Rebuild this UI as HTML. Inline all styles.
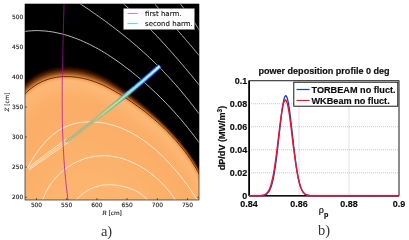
<!DOCTYPE html><html><head><meta charset="utf-8"><title>figure</title><style>html,body{margin:0;padding:0;background:#fff}</style></head><body><svg width="409" height="240" viewBox="0 0 409 240" style="display:block">
<defs><clipPath id="cl"><rect x="25" y="4" width="174" height="196"/></clipPath>
<clipPath id="sp"><path d="M5.4,126.4 L6.4,125.0 L7.4,123.6 L8.3,122.2 L9.3,120.8 L10.3,119.4 L11.3,117.9 L12.3,116.5 L13.3,115.1 L14.3,113.6 L15.2,112.2 L16.2,110.8 L17.2,109.4 L18.3,108.0 L19.3,106.6 L20.3,105.3 L21.4,103.9 L22.4,102.6 L23.5,101.3 L24.6,100.1 L25.7,98.8 L26.8,97.6 L27.9,96.5 L29.1,95.3 L30.3,94.2 L31.5,93.2 L32.7,92.2 L34.0,91.2 L35.3,90.2 L36.6,89.3 L37.9,88.5 L39.2,87.6 L40.6,86.9 L42.0,86.1 L43.4,85.4 L44.8,84.8 L46.3,84.2 L47.7,83.6 L49.2,83.1 L50.7,82.6 L52.3,82.2 L53.8,81.9 L55.4,81.6 L57.0,81.3 L58.6,81.1 L60.2,80.9 L61.8,80.7 L63.5,80.6 L65.1,80.6 L66.8,80.6 L68.5,80.6 L70.2,80.7 L71.8,80.8 L73.5,80.9 L75.2,81.1 L76.8,81.3 L78.5,81.6 L80.1,81.9 L81.8,82.2 L83.4,82.6 L85.0,83.0 L86.6,83.4 L88.2,83.8 L89.7,84.3 L91.3,84.8 L92.8,85.3 L94.4,85.9 L95.9,86.5 L97.4,87.1 L98.9,87.7 L100.4,88.4 L101.9,89.1 L103.4,89.8 L104.9,90.5 L106.4,91.2 L107.8,92.0 L109.3,92.8 L110.7,93.6 L112.2,94.4 L113.6,95.2 L115.1,96.1 L116.5,97.0 L117.9,97.8 L119.4,98.7 L120.8,99.6 L122.2,100.6 L123.7,101.5 L125.1,102.4 L126.5,103.4 L127.9,104.3 L129.3,105.3 L130.7,106.2 L132.1,107.2 L133.5,108.2 L134.9,109.2 L136.3,110.2 L137.6,111.2 L139.0,112.3 L140.4,113.3 L141.7,114.3 L143.1,115.4 L144.4,116.4 L145.7,117.5 L147.1,118.6 L148.4,119.7 L149.7,120.8 L151.0,121.9 L152.3,123.0 L153.6,124.1 L154.9,125.2 L156.1,126.4 L157.4,127.5 L158.6,128.7 L159.9,129.8 L161.1,131.0 L162.3,132.2 L163.5,133.4 L164.7,134.6 L165.9,135.8 L167.1,137.0 L168.3,138.3 L169.4,139.5 L170.6,140.7 L171.7,142.0 L172.9,143.3 L174.0,144.5 L175.1,145.8 L176.2,147.1 L177.2,148.4 L178.3,149.7 L179.3,151.1 L180.4,152.4 L181.4,153.7 L182.4,155.1 L183.4,156.4 L184.4,157.8 L185.4,159.2 L186.3,160.5 L187.3,161.9 L188.2,163.3 L189.1,164.8 L190.0,166.2 L190.9,167.6 L191.8,169.0 L192.6,170.5 L193.4,171.9 L194.3,173.4 L195.1,174.9 L195.8,176.4 L196.6,177.9 L197.4,179.4 L198.1,180.9 L198.8,182.4 L199.5,183.9 L200.2,185.5 L200.9,187.0 L201.5,188.6 L202.2,190.2 L202.8,191.7 L203.4,193.3 L240.0,240.0 L-10.0,240.0"/></clipPath>
<filter id="bl" x="-20%" y="-20%" width="140%" height="140%"><feGaussianBlur stdDeviation="3"/></filter>
<filter id="b1" x="-20%" y="-20%" width="140%" height="140%"><feGaussianBlur stdDeviation="0.6"/></filter>
</defs>
<rect x="0" y="0" width="409" height="240" fill="#fff"/>
<g clip-path="url(#cl)">
<rect x="25" y="4" width="174" height="196" fill="#000"/>
<g filter="url(#b1)">
<path d="M-6.0,118.1 L-5.0,116.8 L-4.1,115.5 L-3.1,114.2 L-2.1,112.9 L-1.2,111.5 L-0.2,110.1 L0.8,108.6 L1.8,107.2 L2.8,105.7 L3.8,104.3 L4.9,102.8 L5.9,101.3 L7.0,99.8 L8.1,98.3 L9.2,96.7 L10.4,95.2 L11.5,93.7 L12.7,92.2 L14.0,90.7 L15.2,89.2 L16.5,87.8 L17.9,86.3 L19.3,84.9 L20.7,83.5 L22.1,82.2 L23.6,80.8 L25.1,79.5 L26.7,78.3 L28.3,77.1 L30.0,75.9 L31.6,74.8 L33.4,73.7 L35.1,72.7 L36.9,71.7 L38.7,70.8 L40.6,69.9 L42.5,69.1 L44.4,68.4 L46.4,67.7 L48.4,67.1 L50.5,66.5 L52.5,66.1 L54.5,65.6 L56.6,65.3 L58.7,65.0 L60.7,64.8 L62.8,64.7 L64.8,64.6 L66.9,64.5 L69.0,64.5 L71.0,64.6 L73.1,64.8 L75.1,65.0 L77.1,65.2 L79.1,65.5 L81.1,65.8 L83.1,66.2 L85.0,66.7 L86.9,67.2 L88.8,67.7 L90.7,68.3 L92.5,68.9 L94.4,69.6 L96.1,70.3 L97.9,71.0 L99.6,71.8 L101.3,72.6 L103.0,73.5 L104.7,74.3 L106.3,75.2 L107.9,76.1 L109.5,77.1 L111.1,78.0 L112.7,79.0 L114.2,80.0 L115.7,81.0 L117.2,82.1 L118.7,83.1 L120.1,84.2 L121.6,85.2 L123.0,86.3 L124.4,87.4 L125.8,88.5 L127.2,89.6 L128.6,90.7 L130.0,91.8 L131.4,92.9 L132.8,94.0 L134.2,95.1 L135.5,96.2 L136.9,97.3 L138.3,98.5 L139.6,99.6 L141.0,100.8 L142.4,101.9 L143.7,103.1 L145.0,104.2 L146.4,105.4 L147.7,106.6 L149.0,107.7 L150.4,108.9 L151.7,110.1 L153.0,111.3 L154.3,112.5 L155.6,113.7 L156.9,115.0 L158.2,116.2 L159.4,117.4 L160.7,118.7 L162.0,119.9 L163.2,121.2 L164.5,122.4 L165.7,123.7 L166.9,124.9 L168.2,126.2 L169.4,127.5 L170.6,128.8 L171.8,130.1 L173.0,131.4 L174.1,132.7 L175.3,134.1 L176.5,135.4 L177.6,136.7 L178.7,138.1 L179.9,139.4 L181.0,140.8 L182.1,142.2 L183.2,143.5 L184.3,144.9 L185.3,146.3 L186.4,147.7 L187.4,149.1 L188.5,150.6 L189.5,152.0 L190.5,153.4 L191.5,154.9 L192.5,156.3 L193.5,157.8 L194.4,159.3 L195.4,160.7 L196.3,162.2 L197.2,163.7 L198.1,165.2 L199.0,166.8 L199.9,168.3 L200.8,169.8 L201.6,171.4 L202.4,172.9 L203.3,174.5 L204.1,176.1 L204.8,177.7 L205.6,179.2 L206.3,180.9 L207.1,182.5 L207.8,184.1 L208.5,185.7 L209.2,187.4 L209.8,189.0 L210.5,190.7 L240.0,240.0 L-10.0,240.0" fill="rgb(0,0,0)"/>
<path d="M-5.6,118.4 L-4.6,117.1 L-3.7,115.8 L-2.7,114.5 L-1.8,113.1 L-0.8,111.7 L0.2,110.3 L1.2,108.9 L2.2,107.5 L3.2,106.0 L4.2,104.5 L5.2,103.0 L6.3,101.5 L7.4,100.0 L8.5,98.5 L9.6,97.0 L10.7,95.5 L11.9,94.0 L13.1,92.5 L14.3,91.0 L15.6,89.6 L16.9,88.1 L18.2,86.7 L19.6,85.2 L21.0,83.9 L22.4,82.5 L23.9,81.2 L25.4,79.9 L27.0,78.7 L28.6,77.5 L30.2,76.3 L31.9,75.2 L33.6,74.1 L35.3,73.1 L37.1,72.2 L38.9,71.3 L40.8,70.4 L42.7,69.6 L44.6,68.9 L46.6,68.2 L48.6,67.6 L50.6,67.0 L52.6,66.6 L54.6,66.2 L56.7,65.8 L58.7,65.6 L60.8,65.4 L62.8,65.2 L64.9,65.1 L66.9,65.1 L69.0,65.1 L71.0,65.2 L73.0,65.3 L75.0,65.5 L77.0,65.7 L79.0,66.0 L81.0,66.4 L83.0,66.8 L84.9,67.2 L86.8,67.7 L88.7,68.2 L90.6,68.8 L92.4,69.4 L94.2,70.1 L96.0,70.8 L97.7,71.5 L99.5,72.3 L101.2,73.1 L102.8,73.9 L104.5,74.8 L106.1,75.7 L107.7,76.6 L109.3,77.5 L110.9,78.4 L112.4,79.4 L114.0,80.4 L115.5,81.4 L117.0,82.4 L118.5,83.5 L119.9,84.5 L121.4,85.6 L122.8,86.6 L124.2,87.7 L125.6,88.8 L127.0,89.9 L128.4,90.9 L129.8,92.0 L131.2,93.1 L132.6,94.2 L134.0,95.4 L135.4,96.5 L136.7,97.6 L138.1,98.7 L139.5,99.9 L140.8,101.0 L142.2,102.1 L143.5,103.3 L144.9,104.4 L146.2,105.6 L147.6,106.8 L148.9,108.0 L150.2,109.1 L151.5,110.3 L152.8,111.5 L154.1,112.7 L155.4,113.9 L156.7,115.1 L158.0,116.4 L159.3,117.6 L160.6,118.8 L161.8,120.1 L163.1,121.3 L164.3,122.6 L165.6,123.8 L166.8,125.1 L168.0,126.4 L169.2,127.7 L170.4,128.9 L171.6,130.2 L172.8,131.5 L174.0,132.9 L175.2,134.2 L176.3,135.5 L177.5,136.8 L178.6,138.2 L179.7,139.5 L180.9,140.9 L182.0,142.3 L183.1,143.6 L184.1,145.0 L185.2,146.4 L186.3,147.8 L187.3,149.2 L188.4,150.7 L189.4,152.1 L190.4,153.5 L191.4,155.0 L192.4,156.4 L193.3,157.9 L194.3,159.3 L195.3,160.8 L196.2,162.3 L197.1,163.8 L198.0,165.3 L198.9,166.8 L199.8,168.4 L200.6,169.9 L201.5,171.4 L202.3,173.0 L203.1,174.6 L203.9,176.1 L204.7,177.7 L205.5,179.3 L206.2,180.9 L206.9,182.5 L207.7,184.2 L208.4,185.8 L209.0,187.4 L209.7,189.1 L210.3,190.7 L240.0,240.0 L-10.0,240.0" fill="rgb(4,0,0)"/>
<path d="M-5.3,118.6 L-4.3,117.3 L-3.3,116.1 L-2.4,114.7 L-1.4,113.4 L-0.4,112.0 L0.6,110.6 L1.6,109.2 L2.6,107.7 L3.6,106.2 L4.6,104.8 L5.6,103.3 L6.7,101.8 L7.7,100.3 L8.8,98.8 L9.9,97.3 L11.1,95.8 L12.2,94.3 L13.4,92.8 L14.7,91.3 L15.9,89.9 L17.2,88.4 L18.5,87.0 L19.9,85.6 L21.3,84.2 L22.7,82.9 L24.2,81.6 L25.7,80.3 L27.3,79.1 L28.9,77.9 L30.5,76.7 L32.1,75.6 L33.8,74.6 L35.6,73.6 L37.3,72.6 L39.1,71.7 L41.0,70.9 L42.9,70.1 L44.8,69.4 L46.7,68.7 L48.7,68.1 L50.7,67.6 L52.7,67.1 L54.7,66.7 L56.7,66.4 L58.8,66.1 L60.8,65.9 L62.8,65.7 L64.9,65.7 L66.9,65.6 L68.9,65.6 L71.0,65.7 L73.0,65.9 L75.0,66.0 L77.0,66.3 L79.0,66.6 L80.9,66.9 L82.9,67.3 L84.8,67.7 L86.7,68.2 L88.6,68.7 L90.4,69.3 L92.2,69.9 L94.0,70.6 L95.8,71.3 L97.6,72.0 L99.3,72.8 L101.0,73.5 L102.7,74.4 L104.3,75.2 L105.9,76.1 L107.6,77.0 L109.1,77.9 L110.7,78.8 L112.2,79.8 L113.8,80.8 L115.3,81.8 L116.8,82.8 L118.3,83.8 L119.7,84.8 L121.2,85.9 L122.6,87.0 L124.0,88.0 L125.4,89.1 L126.9,90.2 L128.3,91.2 L129.6,92.3 L131.0,93.4 L132.4,94.5 L133.8,95.6 L135.2,96.7 L136.6,97.8 L137.9,99.0 L139.3,100.1 L140.7,101.2 L142.0,102.4 L143.4,103.5 L144.7,104.7 L146.1,105.8 L147.4,107.0 L148.7,108.2 L150.1,109.3 L151.4,110.5 L152.7,111.7 L154.0,112.9 L155.3,114.1 L156.6,115.3 L157.9,116.5 L159.1,117.8 L160.4,119.0 L161.7,120.2 L162.9,121.5 L164.2,122.7 L165.4,124.0 L166.7,125.2 L167.9,126.5 L169.1,127.8 L170.3,129.1 L171.5,130.4 L172.7,131.7 L173.9,133.0 L175.0,134.3 L176.2,135.6 L177.3,137.0 L178.5,138.3 L179.6,139.7 L180.7,141.0 L181.8,142.4 L182.9,143.8 L184.0,145.1 L185.1,146.5 L186.1,147.9 L187.2,149.3 L188.2,150.8 L189.2,152.2 L190.3,153.6 L191.3,155.1 L192.2,156.5 L193.2,158.0 L194.2,159.4 L195.1,160.9 L196.0,162.4 L197.0,163.9 L197.9,165.4 L198.8,166.9 L199.6,168.4 L200.5,170.0 L201.3,171.5 L202.2,173.1 L203.0,174.6 L203.8,176.2 L204.5,177.8 L205.3,179.4 L206.1,181.0 L206.8,182.6 L207.5,184.2 L208.2,185.9 L208.9,187.5 L209.5,189.1 L210.2,190.8 L240.0,240.0 L-10.0,240.0" fill="rgb(9,1,0)"/>
<path d="M-4.9,118.9 L-3.9,117.6 L-2.9,116.3 L-2.0,115.0 L-1.0,113.6 L-0.0,112.2 L0.9,110.8 L1.9,109.4 L2.9,108.0 L3.9,106.5 L4.9,105.0 L6.0,103.5 L7.0,102.1 L8.1,100.6 L9.2,99.1 L10.3,97.6 L11.4,96.1 L12.6,94.6 L13.8,93.1 L15.0,91.6 L16.2,90.2 L17.5,88.7 L18.9,87.3 L20.2,85.9 L21.6,84.6 L23.1,83.2 L24.5,81.9 L26.0,80.7 L27.6,79.5 L29.1,78.3 L30.7,77.2 L32.4,76.1 L34.1,75.0 L35.8,74.0 L37.6,73.1 L39.3,72.2 L41.2,71.4 L43.0,70.6 L44.9,69.9 L46.9,69.2 L48.8,68.6 L50.8,68.1 L52.8,67.6 L54.8,67.2 L56.8,66.9 L58.8,66.6 L60.8,66.4 L62.9,66.3 L64.9,66.2 L66.9,66.2 L68.9,66.2 L70.9,66.3 L72.9,66.4 L74.9,66.6 L76.9,66.8 L78.9,67.1 L80.8,67.4 L82.8,67.8 L84.7,68.3 L86.6,68.7 L88.4,69.3 L90.3,69.8 L92.1,70.4 L93.9,71.1 L95.7,71.8 L97.4,72.5 L99.1,73.2 L100.8,74.0 L102.5,74.8 L104.1,75.7 L105.7,76.5 L107.4,77.4 L108.9,78.3 L110.5,79.2 L112.0,80.2 L113.6,81.2 L115.1,82.2 L116.6,83.2 L118.0,84.2 L119.5,85.2 L121.0,86.2 L122.4,87.3 L123.8,88.3 L125.2,89.4 L126.7,90.5 L128.1,91.5 L129.5,92.6 L130.8,93.7 L132.2,94.8 L133.6,95.9 L135.0,97.0 L136.4,98.1 L137.8,99.2 L139.1,100.3 L140.5,101.5 L141.8,102.6 L143.2,103.7 L144.5,104.9 L145.9,106.0 L147.2,107.2 L148.6,108.4 L149.9,109.5 L151.2,110.7 L152.5,111.9 L153.8,113.1 L155.1,114.3 L156.4,115.5 L157.7,116.7 L159.0,117.9 L160.3,119.1 L161.5,120.4 L162.8,121.6 L164.0,122.9 L165.3,124.1 L166.5,125.4 L167.7,126.7 L169.0,127.9 L170.2,129.2 L171.4,130.5 L172.6,131.8 L173.7,133.1 L174.9,134.4 L176.1,135.8 L177.2,137.1 L178.4,138.4 L179.5,139.8 L180.6,141.1 L181.7,142.5 L182.8,143.9 L183.9,145.2 L185.0,146.6 L186.0,148.0 L187.1,149.4 L188.1,150.8 L189.1,152.3 L190.1,153.7 L191.1,155.1 L192.1,156.6 L193.1,158.1 L194.0,159.5 L195.0,161.0 L195.9,162.5 L196.8,164.0 L197.7,165.5 L198.6,167.0 L199.5,168.5 L200.4,170.0 L201.2,171.6 L202.0,173.1 L202.8,174.7 L203.6,176.3 L204.4,177.9 L205.2,179.4 L205.9,181.0 L206.6,182.7 L207.4,184.3 L208.1,185.9 L208.7,187.6 L209.4,189.2 L210.0,190.9 L240.0,240.0 L-10.0,240.0" fill="rgb(15,3,0)"/>
<path d="M-4.5,119.2 L-3.5,117.9 L-2.6,116.6 L-1.6,115.3 L-0.6,113.9 L0.3,112.5 L1.3,111.1 L2.3,109.7 L3.3,108.2 L4.3,106.8 L5.3,105.3 L6.4,103.8 L7.4,102.3 L8.5,100.8 L9.6,99.3 L10.7,97.8 L11.8,96.4 L12.9,94.9 L14.1,93.4 L15.3,91.9 L16.6,90.5 L17.9,89.1 L19.2,87.7 L20.5,86.3 L21.9,84.9 L23.4,83.6 L24.8,82.3 L26.3,81.1 L27.8,79.9 L29.4,78.7 L31.0,77.6 L32.6,76.5 L34.3,75.5 L36.0,74.5 L37.8,73.5 L39.5,72.7 L41.4,71.8 L43.2,71.1 L45.1,70.4 L47.0,69.7 L48.9,69.1 L50.9,68.6 L52.9,68.2 L54.9,67.8 L56.9,67.4 L58.9,67.2 L60.9,67.0 L62.9,66.8 L64.9,66.7 L66.9,66.7 L68.9,66.7 L70.9,66.8 L72.9,67.0 L74.9,67.1 L76.8,67.4 L78.8,67.7 L80.7,68.0 L82.7,68.4 L84.6,68.8 L86.5,69.3 L88.3,69.8 L90.1,70.3 L91.9,70.9 L93.7,71.6 L95.5,72.2 L97.2,73.0 L98.9,73.7 L100.6,74.5 L102.3,75.3 L103.9,76.1 L105.6,76.9 L107.2,77.8 L108.7,78.7 L110.3,79.6 L111.8,80.6 L113.4,81.6 L114.9,82.5 L116.4,83.5 L117.8,84.5 L119.3,85.5 L120.8,86.6 L122.2,87.6 L123.6,88.7 L125.1,89.7 L126.5,90.8 L127.9,91.8 L129.3,92.9 L130.7,94.0 L132.0,95.1 L133.4,96.2 L134.8,97.3 L136.2,98.4 L137.6,99.5 L138.9,100.6 L140.3,101.7 L141.7,102.8 L143.0,104.0 L144.4,105.1 L145.7,106.3 L147.1,107.4 L148.4,108.6 L149.7,109.7 L151.1,110.9 L152.4,112.1 L153.7,113.3 L155.0,114.5 L156.3,115.7 L157.6,116.9 L158.9,118.1 L160.1,119.3 L161.4,120.5 L162.7,121.8 L163.9,123.0 L165.2,124.3 L166.4,125.5 L167.6,126.8 L168.8,128.1 L170.0,129.4 L171.2,130.6 L172.4,131.9 L173.6,133.2 L174.8,134.6 L175.9,135.9 L177.1,137.2 L178.2,138.5 L179.3,139.9 L180.5,141.2 L181.6,142.6 L182.7,144.0 L183.8,145.3 L184.8,146.7 L185.9,148.1 L186.9,149.5 L188.0,150.9 L189.0,152.4 L190.0,153.8 L191.0,155.2 L192.0,156.7 L193.0,158.1 L193.9,159.6 L194.9,161.1 L195.8,162.6 L196.7,164.1 L197.6,165.6 L198.5,167.1 L199.4,168.6 L200.2,170.1 L201.1,171.7 L201.9,173.2 L202.7,174.8 L203.5,176.3 L204.3,177.9 L205.0,179.5 L205.8,181.1 L206.5,182.7 L207.2,184.3 L207.9,186.0 L208.6,187.6 L209.2,189.3 L209.9,190.9 L240.0,240.0 L-10.0,240.0" fill="rgb(22,6,0)"/>
<path d="M-4.1,119.5 L-3.2,118.1 L-2.2,116.8 L-1.2,115.5 L-0.3,114.1 L0.7,112.8 L1.7,111.4 L2.7,109.9 L3.7,108.5 L4.7,107.0 L5.7,105.5 L6.7,104.1 L7.8,102.6 L8.8,101.1 L9.9,99.6 L11.0,98.1 L12.1,96.6 L13.3,95.2 L14.5,93.7 L15.7,92.2 L16.9,90.8 L18.2,89.4 L19.5,88.0 L20.9,86.6 L22.3,85.3 L23.7,84.0 L25.1,82.7 L26.6,81.5 L28.1,80.3 L29.7,79.1 L31.3,78.0 L32.9,76.9 L34.6,75.9 L36.3,74.9 L38.0,74.0 L39.8,73.1 L41.6,72.3 L43.4,71.6 L45.3,70.9 L47.2,70.2 L49.1,69.6 L51.0,69.1 L53.0,68.7 L54.9,68.3 L56.9,68.0 L58.9,67.7 L60.9,67.5 L62.9,67.4 L64.9,67.3 L66.9,67.3 L68.9,67.3 L70.9,67.4 L72.9,67.5 L74.8,67.7 L76.8,67.9 L78.7,68.2 L80.7,68.5 L82.6,68.9 L84.5,69.3 L86.3,69.8 L88.2,70.3 L90.0,70.8 L91.8,71.4 L93.6,72.1 L95.3,72.7 L97.1,73.4 L98.8,74.2 L100.4,74.9 L102.1,75.7 L103.7,76.5 L105.4,77.4 L107.0,78.2 L108.5,79.1 L110.1,80.1 L111.6,81.0 L113.2,81.9 L114.7,82.9 L116.2,83.9 L117.6,84.9 L119.1,85.9 L120.6,86.9 L122.0,87.9 L123.4,89.0 L124.9,90.0 L126.3,91.1 L127.7,92.1 L129.1,93.2 L130.5,94.3 L131.9,95.4 L133.3,96.4 L134.6,97.5 L136.0,98.6 L137.4,99.7 L138.8,100.8 L140.1,101.9 L141.5,103.1 L142.9,104.2 L144.2,105.3 L145.6,106.5 L146.9,107.6 L148.2,108.8 L149.6,109.9 L150.9,111.1 L152.2,112.3 L153.5,113.5 L154.8,114.6 L156.1,115.8 L157.4,117.0 L158.7,118.3 L160.0,119.5 L161.3,120.7 L162.5,121.9 L163.8,123.2 L165.0,124.4 L166.2,125.7 L167.5,126.9 L168.7,128.2 L169.9,129.5 L171.1,130.8 L172.3,132.1 L173.5,133.4 L174.6,134.7 L175.8,136.0 L176.9,137.3 L178.1,138.7 L179.2,140.0 L180.3,141.3 L181.4,142.7 L182.5,144.1 L183.6,145.5 L184.7,146.8 L185.8,148.2 L186.8,149.6 L187.8,151.0 L188.9,152.5 L189.9,153.9 L190.9,155.3 L191.9,156.8 L192.8,158.2 L193.8,159.7 L194.7,161.2 L195.7,162.6 L196.6,164.1 L197.5,165.6 L198.4,167.1 L199.2,168.7 L200.1,170.2 L200.9,171.7 L201.7,173.3 L202.6,174.8 L203.3,176.4 L204.1,178.0 L204.9,179.6 L205.6,181.2 L206.4,182.8 L207.1,184.4 L207.8,186.0 L208.4,187.7 L209.1,189.3 L209.7,191.0 L240.0,240.0 L-10.0,240.0" fill="rgb(30,9,1)"/>
<path d="M-3.8,119.7 L-2.8,118.4 L-1.8,117.1 L-0.9,115.8 L0.1,114.4 L1.1,113.0 L2.1,111.6 L3.0,110.2 L4.0,108.7 L5.0,107.3 L6.1,105.8 L7.1,104.3 L8.1,102.8 L9.2,101.4 L10.3,99.9 L11.4,98.4 L12.5,96.9 L13.7,95.5 L14.8,94.0 L16.0,92.6 L17.3,91.1 L18.5,89.7 L19.9,88.3 L21.2,87.0 L22.6,85.6 L24.0,84.3 L25.4,83.1 L26.9,81.8 L28.4,80.7 L30.0,79.5 L31.5,78.4 L33.2,77.4 L34.8,76.3 L36.5,75.4 L38.2,74.5 L40.0,73.6 L41.7,72.8 L43.6,72.0 L45.4,71.3 L47.3,70.7 L49.2,70.1 L51.1,69.6 L53.1,69.2 L55.0,68.8 L57.0,68.5 L59.0,68.3 L60.9,68.1 L62.9,67.9 L64.9,67.8 L66.9,67.8 L68.9,67.8 L70.8,67.9 L72.8,68.0 L74.8,68.2 L76.7,68.5 L78.6,68.7 L80.6,69.1 L82.5,69.4 L84.4,69.8 L86.2,70.3 L88.0,70.8 L89.9,71.4 L91.7,71.9 L93.4,72.6 L95.2,73.2 L96.9,73.9 L98.6,74.6 L100.3,75.4 L101.9,76.2 L103.6,77.0 L105.2,77.8 L106.8,78.7 L108.3,79.6 L109.9,80.5 L111.4,81.4 L113.0,82.3 L114.5,83.3 L116.0,84.2 L117.4,85.2 L118.9,86.2 L120.4,87.2 L121.8,88.3 L123.2,89.3 L124.7,90.3 L126.1,91.4 L127.5,92.4 L128.9,93.5 L130.3,94.6 L131.7,95.6 L133.1,96.7 L134.5,97.8 L135.8,98.9 L137.2,100.0 L138.6,101.1 L140.0,102.2 L141.3,103.3 L142.7,104.4 L144.1,105.5 L145.4,106.7 L146.7,107.8 L148.1,109.0 L149.4,110.1 L150.7,111.3 L152.1,112.5 L153.4,113.6 L154.7,114.8 L156.0,116.0 L157.3,117.2 L158.6,118.4 L159.8,119.6 L161.1,120.9 L162.4,122.1 L163.6,123.3 L164.9,124.6 L166.1,125.8 L167.3,127.1 L168.6,128.3 L169.8,129.6 L171.0,130.9 L172.2,132.2 L173.3,133.5 L174.5,134.8 L175.7,136.1 L176.8,137.4 L178.0,138.8 L179.1,140.1 L180.2,141.5 L181.3,142.8 L182.4,144.2 L183.5,145.6 L184.6,146.9 L185.6,148.3 L186.7,149.7 L187.7,151.1 L188.7,152.6 L189.7,154.0 L190.7,155.4 L191.7,156.9 L192.7,158.3 L193.6,159.8 L194.6,161.2 L195.5,162.7 L196.4,164.2 L197.3,165.7 L198.2,167.2 L199.1,168.7 L199.9,170.3 L200.8,171.8 L201.6,173.4 L202.4,174.9 L203.2,176.5 L204.0,178.1 L204.7,179.6 L205.5,181.2 L206.2,182.9 L206.9,184.5 L207.6,186.1 L208.3,187.7 L208.9,189.4 L209.6,191.0 L240.0,240.0 L-10.0,240.0" fill="rgb(39,13,2)"/>
<path d="M-3.4,120.0 L-2.4,118.7 L-1.5,117.4 L-0.5,116.0 L0.5,114.7 L1.4,113.3 L2.4,111.9 L3.4,110.4 L4.4,109.0 L5.4,107.5 L6.4,106.1 L7.5,104.6 L8.5,103.1 L9.6,101.6 L10.6,100.2 L11.7,98.7 L12.9,97.2 L14.0,95.7 L15.2,94.3 L16.4,92.9 L17.6,91.4 L18.9,90.0 L20.2,88.7 L21.5,87.3 L22.9,86.0 L24.3,84.7 L25.7,83.4 L27.2,82.2 L28.7,81.1 L30.2,79.9 L31.8,78.8 L33.4,77.8 L35.0,76.8 L36.7,75.8 L38.4,74.9 L40.2,74.1 L41.9,73.3 L43.7,72.5 L45.6,71.8 L47.4,71.2 L49.3,70.7 L51.2,70.2 L53.2,69.7 L55.1,69.4 L57.1,69.1 L59.0,68.8 L61.0,68.6 L62.9,68.5 L64.9,68.4 L66.9,68.4 L68.9,68.4 L70.8,68.5 L72.8,68.6 L74.7,68.8 L76.6,69.0 L78.6,69.3 L80.5,69.6 L82.4,70.0 L84.2,70.4 L86.1,70.8 L87.9,71.3 L89.7,71.9 L91.5,72.4 L93.3,73.1 L95.0,73.7 L96.7,74.4 L98.4,75.1 L100.1,75.8 L101.7,76.6 L103.4,77.4 L105.0,78.2 L106.6,79.1 L108.1,80.0 L109.7,80.9 L111.2,81.8 L112.8,82.7 L114.3,83.7 L115.8,84.6 L117.2,85.6 L118.7,86.6 L120.2,87.6 L121.6,88.6 L123.0,89.6 L124.5,90.7 L125.9,91.7 L127.3,92.7 L128.7,93.8 L130.1,94.8 L131.5,95.9 L132.9,97.0 L134.3,98.0 L135.7,99.1 L137.0,100.2 L138.4,101.3 L139.8,102.4 L141.2,103.5 L142.5,104.6 L143.9,105.8 L145.2,106.9 L146.6,108.0 L147.9,109.2 L149.3,110.3 L150.6,111.5 L151.9,112.6 L153.2,113.8 L154.5,115.0 L155.8,116.2 L157.1,117.4 L158.4,118.6 L159.7,119.8 L161.0,121.0 L162.2,122.2 L163.5,123.5 L164.7,124.7 L166.0,126.0 L167.2,127.2 L168.4,128.5 L169.6,129.8 L170.8,131.0 L172.0,132.3 L173.2,133.6 L174.4,134.9 L175.5,136.2 L176.7,137.6 L177.8,138.9 L179.0,140.2 L180.1,141.6 L181.2,142.9 L182.3,144.3 L183.4,145.7 L184.4,147.0 L185.5,148.4 L186.5,149.8 L187.6,151.2 L188.6,152.6 L189.6,154.1 L190.6,155.5 L191.6,157.0 L192.6,158.4 L193.5,159.9 L194.5,161.3 L195.4,162.8 L196.3,164.3 L197.2,165.8 L198.1,167.3 L199.0,168.8 L199.8,170.3 L200.6,171.9 L201.5,173.4 L202.3,175.0 L203.1,176.6 L203.8,178.1 L204.6,179.7 L205.3,181.3 L206.1,182.9 L206.8,184.5 L207.5,186.2 L208.1,187.8 L208.8,189.4 L209.4,191.1 L240.0,240.0 L-10.0,240.0" fill="rgb(48,17,3)"/>
<path d="M-3.0,120.3 L-2.1,119.0 L-1.1,117.6 L-0.1,116.3 L0.8,114.9 L1.8,113.5 L2.8,112.1 L3.8,110.7 L4.8,109.2 L5.8,107.8 L6.8,106.3 L7.8,104.9 L8.9,103.4 L9.9,101.9 L11.0,100.4 L12.1,99.0 L13.2,97.5 L14.4,96.0 L15.5,94.6 L16.7,93.2 L18.0,91.7 L19.2,90.4 L20.5,89.0 L21.8,87.6 L23.2,86.3 L24.6,85.1 L26.0,83.8 L27.5,82.6 L29.0,81.4 L30.5,80.3 L32.1,79.2 L33.7,78.2 L35.3,77.2 L36.9,76.3 L38.6,75.4 L40.4,74.5 L42.1,73.8 L43.9,73.0 L45.7,72.3 L47.6,71.7 L49.5,71.2 L51.4,70.7 L53.3,70.3 L55.2,69.9 L57.1,69.6 L59.1,69.3 L61.0,69.2 L63.0,69.0 L64.9,68.9 L66.9,68.9 L68.8,68.9 L70.8,69.0 L72.7,69.1 L74.7,69.3 L76.6,69.5 L78.5,69.8 L80.4,70.1 L82.3,70.5 L84.1,70.9 L86.0,71.4 L87.8,71.8 L89.6,72.4 L91.4,72.9 L93.1,73.6 L94.8,74.2 L96.5,74.9 L98.2,75.6 L99.9,76.3 L101.5,77.1 L103.2,77.9 L104.8,78.7 L106.4,79.5 L107.9,80.4 L109.5,81.3 L111.0,82.2 L112.6,83.1 L114.1,84.0 L115.6,85.0 L117.0,85.9 L118.5,86.9 L120.0,87.9 L121.4,88.9 L122.8,89.9 L124.3,91.0 L125.7,92.0 L127.1,93.0 L128.5,94.1 L129.9,95.1 L131.3,96.2 L132.7,97.2 L134.1,98.3 L135.5,99.4 L136.9,100.5 L138.3,101.6 L139.6,102.7 L141.0,103.8 L142.4,104.9 L143.7,106.0 L145.1,107.1 L146.4,108.2 L147.8,109.4 L149.1,110.5 L150.4,111.7 L151.8,112.8 L153.1,114.0 L154.4,115.2 L155.7,116.4 L157.0,117.6 L158.3,118.8 L159.5,120.0 L160.8,121.2 L162.1,122.4 L163.3,123.6 L164.6,124.9 L165.8,126.1 L167.1,127.4 L168.3,128.6 L169.5,129.9 L170.7,131.2 L171.9,132.5 L173.1,133.7 L174.2,135.0 L175.4,136.4 L176.6,137.7 L177.7,139.0 L178.8,140.3 L179.9,141.7 L181.1,143.0 L182.1,144.4 L183.2,145.8 L184.3,147.1 L185.4,148.5 L186.4,149.9 L187.4,151.3 L188.5,152.7 L189.5,154.2 L190.5,155.6 L191.5,157.0 L192.4,158.5 L193.4,159.9 L194.3,161.4 L195.3,162.9 L196.2,164.4 L197.1,165.9 L197.9,167.4 L198.8,168.9 L199.7,170.4 L200.5,172.0 L201.3,173.5 L202.1,175.1 L202.9,176.6 L203.7,178.2 L204.5,179.8 L205.2,181.4 L205.9,183.0 L206.6,184.6 L207.3,186.2 L208.0,187.9 L208.6,189.5 L209.3,191.1 L240.0,240.0 L-10.0,240.0" fill="rgb(58,22,4)"/>
<path d="M-2.7,120.5 L-1.7,119.2 L-0.7,117.9 L0.2,116.6 L1.2,115.2 L2.2,113.8 L3.2,112.4 L4.2,110.9 L5.1,109.5 L6.2,108.0 L7.2,106.6 L8.2,105.1 L9.2,103.6 L10.3,102.2 L11.4,100.7 L12.5,99.2 L13.6,97.8 L14.7,96.3 L15.9,94.9 L17.1,93.5 L18.3,92.1 L19.5,90.7 L20.8,89.3 L22.2,88.0 L23.5,86.7 L24.9,85.4 L26.3,84.2 L27.8,83.0 L29.3,81.8 L30.8,80.7 L32.3,79.7 L33.9,78.6 L35.5,77.7 L37.2,76.7 L38.9,75.8 L40.6,75.0 L42.3,74.2 L44.1,73.5 L45.9,72.8 L47.7,72.2 L49.6,71.7 L51.5,71.2 L53.4,70.8 L55.3,70.4 L57.2,70.1 L59.1,69.9 L61.1,69.7 L63.0,69.6 L64.9,69.5 L66.9,69.5 L68.8,69.5 L70.8,69.6 L72.7,69.7 L74.6,69.9 L76.5,70.1 L78.4,70.4 L80.3,70.7 L82.2,71.0 L84.0,71.4 L85.9,71.9 L87.7,72.4 L89.4,72.9 L91.2,73.4 L93.0,74.0 L94.7,74.7 L96.4,75.3 L98.1,76.0 L99.7,76.8 L101.4,77.5 L103.0,78.3 L104.6,79.1 L106.2,79.9 L107.7,80.8 L109.3,81.7 L110.8,82.6 L112.3,83.5 L113.9,84.4 L115.3,85.3 L116.8,86.3 L118.3,87.3 L119.8,88.3 L121.2,89.3 L122.6,90.3 L124.1,91.3 L125.5,92.3 L126.9,93.3 L128.3,94.4 L129.7,95.4 L131.1,96.5 L132.5,97.5 L133.9,98.6 L135.3,99.6 L136.7,100.7 L138.1,101.8 L139.5,102.9 L140.8,104.0 L142.2,105.1 L143.6,106.2 L144.9,107.3 L146.3,108.4 L147.6,109.6 L148.9,110.7 L150.3,111.9 L151.6,113.0 L152.9,114.2 L154.2,115.4 L155.5,116.5 L156.8,117.7 L158.1,118.9 L159.4,120.1 L160.7,121.3 L161.9,122.6 L163.2,123.8 L164.4,125.0 L165.7,126.3 L166.9,127.5 L168.1,128.8 L169.4,130.0 L170.6,131.3 L171.7,132.6 L172.9,133.9 L174.1,135.2 L175.3,136.5 L176.4,137.8 L177.6,139.1 L178.7,140.5 L179.8,141.8 L180.9,143.1 L182.0,144.5 L183.1,145.9 L184.2,147.2 L185.2,148.6 L186.3,150.0 L187.3,151.4 L188.3,152.8 L189.3,154.3 L190.3,155.7 L191.3,157.1 L192.3,158.6 L193.3,160.0 L194.2,161.5 L195.1,163.0 L196.0,164.5 L196.9,166.0 L197.8,167.5 L198.7,169.0 L199.5,170.5 L200.4,172.0 L201.2,173.6 L202.0,175.1 L202.8,176.7 L203.6,178.3 L204.3,179.8 L205.1,181.4 L205.8,183.0 L206.5,184.7 L207.2,186.3 L207.8,187.9 L208.5,189.6 L209.1,191.2 L240.0,240.0 L-10.0,240.0" fill="rgb(69,28,6)"/>
<path d="M-2.3,120.8 L-1.3,119.5 L-0.4,118.2 L0.6,116.8 L1.6,115.4 L2.6,114.0 L3.5,112.6 L4.5,111.2 L5.5,109.8 L6.5,108.3 L7.5,106.8 L8.6,105.4 L9.6,103.9 L10.7,102.4 L11.7,101.0 L12.8,99.5 L13.9,98.1 L15.1,96.6 L16.2,95.2 L17.4,93.8 L18.6,92.4 L19.9,91.0 L21.2,89.6 L22.5,88.3 L23.8,87.0 L25.2,85.8 L26.6,84.6 L28.1,83.4 L29.5,82.2 L31.1,81.1 L32.6,80.1 L34.2,79.1 L35.8,78.1 L37.4,77.2 L39.1,76.3 L40.8,75.5 L42.5,74.7 L44.3,74.0 L46.1,73.3 L47.9,72.7 L49.7,72.2 L51.6,71.7 L53.5,71.3 L55.4,71.0 L57.3,70.7 L59.2,70.4 L61.1,70.2 L63.0,70.1 L64.9,70.0 L66.9,70.0 L68.8,70.0 L70.7,70.1 L72.6,70.2 L74.5,70.4 L76.4,70.6 L78.3,70.9 L80.2,71.2 L82.1,71.6 L83.9,72.0 L85.7,72.4 L87.5,72.9 L89.3,73.4 L91.1,74.0 L92.8,74.5 L94.5,75.2 L96.2,75.8 L97.9,76.5 L99.5,77.2 L101.2,78.0 L102.8,78.7 L104.4,79.5 L106.0,80.4 L107.5,81.2 L109.1,82.1 L110.6,83.0 L112.1,83.9 L113.7,84.8 L115.1,85.7 L116.6,86.7 L118.1,87.6 L119.6,88.6 L121.0,89.6 L122.4,90.6 L123.9,91.6 L125.3,92.6 L126.7,93.6 L128.1,94.7 L129.5,95.7 L130.9,96.7 L132.3,97.8 L133.7,98.8 L135.1,99.9 L136.5,101.0 L137.9,102.0 L139.3,103.1 L140.7,104.2 L142.0,105.3 L143.4,106.4 L144.7,107.5 L146.1,108.7 L147.4,109.8 L148.8,110.9 L150.1,112.1 L151.4,113.2 L152.8,114.4 L154.1,115.5 L155.4,116.7 L156.7,117.9 L158.0,119.1 L159.3,120.3 L160.5,121.5 L161.8,122.7 L163.1,123.9 L164.3,125.2 L165.5,126.4 L166.8,127.6 L168.0,128.9 L169.2,130.2 L170.4,131.4 L171.6,132.7 L172.8,134.0 L174.0,135.3 L175.1,136.6 L176.3,137.9 L177.4,139.2 L178.6,140.6 L179.7,141.9 L180.8,143.3 L181.9,144.6 L183.0,146.0 L184.0,147.3 L185.1,148.7 L186.2,150.1 L187.2,151.5 L188.2,152.9 L189.2,154.4 L190.2,155.8 L191.2,157.2 L192.2,158.7 L193.1,160.1 L194.1,161.6 L195.0,163.1 L195.9,164.5 L196.8,166.0 L197.7,167.5 L198.5,169.1 L199.4,170.6 L200.2,172.1 L201.1,173.6 L201.9,175.2 L202.6,176.8 L203.4,178.3 L204.2,179.9 L204.9,181.5 L205.6,183.1 L206.3,184.7 L207.0,186.3 L207.7,188.0 L208.3,189.6 L209.0,191.3 L240.0,240.0 L-10.0,240.0" fill="rgb(80,34,8)"/>
<path d="M-1.9,121.1 L-0.9,119.8 L0.0,118.4 L1.0,117.1 L2.0,115.7 L2.9,114.3 L3.9,112.9 L4.9,111.5 L5.9,110.0 L6.9,108.6 L7.9,107.1 L8.9,105.6 L10.0,104.2 L11.0,102.7 L12.1,101.2 L13.2,99.8 L14.3,98.3 L15.4,96.9 L16.6,95.5 L17.8,94.1 L19.0,92.7 L20.2,91.3 L21.5,90.0 L22.8,88.7 L24.1,87.4 L25.5,86.1 L26.9,84.9 L28.4,83.8 L29.8,82.6 L31.3,81.5 L32.9,80.5 L34.4,79.5 L36.0,78.5 L37.6,77.6 L39.3,76.8 L41.0,75.9 L42.7,75.2 L44.4,74.5 L46.2,73.8 L48.0,73.2 L49.9,72.7 L51.7,72.2 L53.6,71.8 L55.4,71.5 L57.3,71.2 L59.2,71.0 L61.1,70.8 L63.0,70.7 L65.0,70.6 L66.9,70.6 L68.8,70.6 L70.7,70.7 L72.6,70.8 L74.5,71.0 L76.4,71.2 L78.3,71.4 L80.1,71.7 L82.0,72.1 L83.8,72.5 L85.6,72.9 L87.4,73.4 L89.2,73.9 L90.9,74.5 L92.6,75.0 L94.4,75.7 L96.0,76.3 L97.7,77.0 L99.4,77.7 L101.0,78.4 L102.6,79.2 L104.2,80.0 L105.8,80.8 L107.3,81.6 L108.9,82.5 L110.4,83.3 L111.9,84.2 L113.4,85.2 L114.9,86.1 L116.4,87.0 L117.9,88.0 L119.3,88.9 L120.8,89.9 L122.2,90.9 L123.7,91.9 L125.1,92.9 L126.5,93.9 L127.9,94.9 L129.3,96.0 L130.8,97.0 L132.2,98.0 L133.6,99.1 L135.0,100.2 L136.3,101.2 L137.7,102.3 L139.1,103.4 L140.5,104.4 L141.9,105.5 L143.2,106.6 L144.6,107.8 L145.9,108.9 L147.3,110.0 L148.6,111.1 L150.0,112.3 L151.3,113.4 L152.6,114.6 L153.9,115.7 L155.2,116.9 L156.5,118.1 L157.8,119.3 L159.1,120.5 L160.4,121.7 L161.7,122.9 L162.9,124.1 L164.2,125.3 L165.4,126.5 L166.6,127.8 L167.9,129.0 L169.1,130.3 L170.3,131.6 L171.5,132.8 L172.7,134.1 L173.8,135.4 L175.0,136.7 L176.2,138.0 L177.3,139.4 L178.4,140.7 L179.6,142.0 L180.7,143.4 L181.8,144.7 L182.8,146.1 L183.9,147.5 L185.0,148.8 L186.0,150.2 L187.1,151.6 L188.1,153.0 L189.1,154.4 L190.1,155.9 L191.1,157.3 L192.0,158.8 L193.0,160.2 L193.9,161.7 L194.9,163.1 L195.8,164.6 L196.7,166.1 L197.5,167.6 L198.4,169.1 L199.3,170.7 L200.1,172.2 L200.9,173.7 L201.7,175.3 L202.5,176.8 L203.3,178.4 L204.0,180.0 L204.8,181.6 L205.5,183.2 L206.2,184.8 L206.9,186.4 L207.5,188.0 L208.2,189.7 L208.8,191.3 L240.0,240.0 L-10.0,240.0" fill="rgb(92,41,10)"/>
<path d="M-1.6,121.3 L-0.6,120.0 L0.4,118.7 L1.4,117.3 L2.3,116.0 L3.3,114.6 L4.3,113.1 L5.3,111.7 L6.3,110.3 L7.3,108.8 L8.3,107.4 L9.3,105.9 L10.3,104.4 L11.4,103.0 L12.5,101.5 L13.5,100.1 L14.6,98.6 L15.8,97.2 L16.9,95.8 L18.1,94.4 L19.3,93.0 L20.6,91.6 L21.8,90.3 L23.1,89.0 L24.5,87.7 L25.8,86.5 L27.2,85.3 L28.7,84.1 L30.1,83.0 L31.6,81.9 L33.1,80.9 L34.7,79.9 L36.3,79.0 L37.9,78.1 L39.5,77.2 L41.2,76.4 L42.9,75.7 L44.6,75.0 L46.4,74.3 L48.2,73.7 L50.0,73.2 L51.8,72.8 L53.7,72.4 L55.5,72.0 L57.4,71.7 L59.3,71.5 L61.2,71.3 L63.1,71.2 L65.0,71.1 L66.9,71.1 L68.8,71.1 L70.7,71.2 L72.6,71.3 L74.4,71.5 L76.3,71.7 L78.2,72.0 L80.0,72.3 L81.9,72.6 L83.7,73.0 L85.5,73.4 L87.3,73.9 L89.0,74.4 L90.8,75.0 L92.5,75.5 L94.2,76.1 L95.9,76.8 L97.5,77.4 L99.2,78.1 L100.8,78.9 L102.4,79.6 L104.0,80.4 L105.6,81.2 L107.1,82.0 L108.7,82.9 L110.2,83.7 L111.7,84.6 L113.2,85.5 L114.7,86.4 L116.2,87.4 L117.7,88.3 L119.1,89.3 L120.6,90.2 L122.0,91.2 L123.5,92.2 L124.9,93.2 L126.3,94.2 L127.7,95.2 L129.2,96.3 L130.6,97.3 L132.0,98.3 L133.4,99.4 L134.8,100.4 L136.2,101.5 L137.6,102.5 L138.9,103.6 L140.3,104.7 L141.7,105.8 L143.1,106.9 L144.4,108.0 L145.8,109.1 L147.1,110.2 L148.5,111.3 L149.8,112.5 L151.1,113.6 L152.5,114.7 L153.8,115.9 L155.1,117.1 L156.4,118.2 L157.7,119.4 L159.0,120.6 L160.2,121.8 L161.5,123.0 L162.8,124.2 L164.0,125.5 L165.3,126.7 L166.5,127.9 L167.7,129.2 L168.9,130.4 L170.2,131.7 L171.3,133.0 L172.5,134.3 L173.7,135.5 L174.9,136.8 L176.0,138.2 L177.2,139.5 L178.3,140.8 L179.4,142.1 L180.5,143.5 L181.6,144.8 L182.7,146.2 L183.8,147.6 L184.8,148.9 L185.9,150.3 L186.9,151.7 L187.9,153.1 L189.0,154.5 L190.0,156.0 L190.9,157.4 L191.9,158.8 L192.9,160.3 L193.8,161.8 L194.7,163.2 L195.6,164.7 L196.5,166.2 L197.4,167.7 L198.3,169.2 L199.1,170.7 L200.0,172.3 L200.8,173.8 L201.6,175.3 L202.4,176.9 L203.1,178.5 L203.9,180.0 L204.6,181.6 L205.3,183.2 L206.0,184.8 L206.7,186.5 L207.4,188.1 L208.0,189.7 L208.7,191.4 L240.0,240.0 L-10.0,240.0" fill="rgb(104,49,13)"/>
<path d="M-1.2,121.6 L-0.2,120.3 L0.8,118.9 L1.7,117.6 L2.7,116.2 L3.7,114.8 L4.7,113.4 L5.6,112.0 L6.6,110.5 L7.6,109.1 L8.6,107.6 L9.7,106.2 L10.7,104.7 L11.7,103.2 L12.8,101.8 L13.9,100.3 L15.0,98.9 L16.1,97.5 L17.3,96.1 L18.5,94.7 L19.7,93.3 L20.9,92.0 L22.2,90.6 L23.5,89.3 L24.8,88.1 L26.1,86.9 L27.5,85.7 L28.9,84.5 L30.4,83.4 L31.9,82.4 L33.4,81.3 L34.9,80.3 L36.5,79.4 L38.1,78.5 L39.7,77.7 L41.4,76.9 L43.1,76.1 L44.8,75.5 L46.5,74.8 L48.3,74.3 L50.1,73.7 L51.9,73.3 L53.8,72.9 L55.6,72.6 L57.5,72.3 L59.3,72.0 L61.2,71.9 L63.1,71.7 L65.0,71.7 L66.9,71.6 L68.8,71.7 L70.6,71.8 L72.5,71.9 L74.4,72.0 L76.3,72.3 L78.1,72.5 L79.9,72.8 L81.8,73.2 L83.6,73.5 L85.4,74.0 L87.1,74.4 L88.9,74.9 L90.6,75.5 L92.3,76.0 L94.0,76.6 L95.7,77.3 L97.4,77.9 L99.0,78.6 L100.6,79.3 L102.2,80.1 L103.8,80.8 L105.4,81.6 L106.9,82.4 L108.5,83.3 L110.0,84.1 L111.5,85.0 L113.0,85.9 L114.5,86.8 L116.0,87.7 L117.5,88.7 L118.9,89.6 L120.4,90.6 L121.8,91.6 L123.3,92.5 L124.7,93.5 L126.1,94.5 L127.6,95.5 L129.0,96.5 L130.4,97.6 L131.8,98.6 L133.2,99.6 L134.6,100.7 L136.0,101.7 L137.4,102.8 L138.8,103.8 L140.1,104.9 L141.5,106.0 L142.9,107.1 L144.3,108.2 L145.6,109.3 L147.0,110.4 L148.3,111.5 L149.7,112.6 L151.0,113.8 L152.3,114.9 L153.6,116.1 L154.9,117.2 L156.2,118.4 L157.5,119.6 L158.8,120.8 L160.1,122.0 L161.4,123.2 L162.6,124.4 L163.9,125.6 L165.1,126.8 L166.4,128.1 L167.6,129.3 L168.8,130.6 L170.0,131.8 L171.2,133.1 L172.4,134.4 L173.6,135.7 L174.7,137.0 L175.9,138.3 L177.0,139.6 L178.2,140.9 L179.3,142.2 L180.4,143.6 L181.5,144.9 L182.6,146.3 L183.7,147.7 L184.7,149.0 L185.8,150.4 L186.8,151.8 L187.8,153.2 L188.8,154.6 L189.8,156.1 L190.8,157.5 L191.8,158.9 L192.7,160.4 L193.7,161.8 L194.6,163.3 L195.5,164.8 L196.4,166.3 L197.3,167.8 L198.1,169.3 L199.0,170.8 L199.8,172.3 L200.6,173.9 L201.4,175.4 L202.2,177.0 L203.0,178.5 L203.7,180.1 L204.5,181.7 L205.2,183.3 L205.9,184.9 L206.6,186.5 L207.2,188.1 L207.9,189.8 L208.5,191.4 L240.0,240.0 L-10.0,240.0" fill="rgb(117,57,17)"/>
<path d="M-0.8,121.9 L0.2,120.6 L1.1,119.2 L2.1,117.9 L3.1,116.5 L4.0,115.1 L5.0,113.6 L6.0,112.2 L7.0,110.8 L8.0,109.3 L9.0,107.9 L10.0,106.4 L11.1,105.0 L12.1,103.5 L13.2,102.1 L14.3,100.6 L15.4,99.2 L16.5,97.8 L17.6,96.4 L18.8,95.0 L20.0,93.6 L21.2,92.3 L22.5,91.0 L23.8,89.7 L25.1,88.4 L26.4,87.2 L27.8,86.1 L29.2,84.9 L30.7,83.8 L32.1,82.8 L33.6,81.7 L35.2,80.8 L36.7,79.8 L38.3,79.0 L39.9,78.1 L41.6,77.4 L43.3,76.6 L45.0,75.9 L46.7,75.3 L48.5,74.8 L50.2,74.3 L52.0,73.8 L53.9,73.4 L55.7,73.1 L57.5,72.8 L59.4,72.6 L61.3,72.4 L63.1,72.3 L65.0,72.2 L66.9,72.2 L68.7,72.2 L70.6,72.3 L72.5,72.4 L74.3,72.6 L76.2,72.8 L78.0,73.1 L79.9,73.4 L81.7,73.7 L83.5,74.1 L85.2,74.5 L87.0,74.9 L88.8,75.4 L90.5,76.0 L92.2,76.5 L93.9,77.1 L95.5,77.7 L97.2,78.4 L98.8,79.1 L100.4,79.8 L102.0,80.5 L103.6,81.3 L105.2,82.1 L106.7,82.9 L108.3,83.7 L109.8,84.5 L111.3,85.4 L112.8,86.3 L114.3,87.2 L115.8,88.1 L117.3,89.0 L118.7,90.0 L120.2,90.9 L121.6,91.9 L123.1,92.8 L124.5,93.8 L125.9,94.8 L127.4,95.8 L128.8,96.8 L130.2,97.8 L131.6,98.9 L133.0,99.9 L134.4,100.9 L135.8,102.0 L137.2,103.0 L138.6,104.1 L140.0,105.1 L141.4,106.2 L142.7,107.3 L144.1,108.4 L145.5,109.5 L146.8,110.6 L148.2,111.7 L149.5,112.8 L150.8,114.0 L152.2,115.1 L153.5,116.3 L154.8,117.4 L156.1,118.6 L157.4,119.8 L158.7,120.9 L160.0,122.1 L161.2,123.3 L162.5,124.5 L163.7,125.8 L165.0,127.0 L166.2,128.2 L167.5,129.5 L168.7,130.7 L169.9,132.0 L171.1,133.2 L172.3,134.5 L173.4,135.8 L174.6,137.1 L175.8,138.4 L176.9,139.7 L178.0,141.0 L179.2,142.3 L180.3,143.7 L181.4,145.0 L182.5,146.4 L183.5,147.8 L184.6,149.1 L185.6,150.5 L186.7,151.9 L187.7,153.3 L188.7,154.7 L189.7,156.1 L190.7,157.6 L191.6,159.0 L192.6,160.5 L193.5,161.9 L194.5,163.4 L195.4,164.9 L196.3,166.4 L197.1,167.9 L198.0,169.4 L198.9,170.9 L199.7,172.4 L200.5,173.9 L201.3,175.5 L202.1,177.0 L202.9,178.6 L203.6,180.2 L204.3,181.8 L205.0,183.4 L205.7,185.0 L206.4,186.6 L207.1,188.2 L207.7,189.8 L208.4,191.5 L240.0,240.0 L-10.0,240.0" fill="rgb(130,66,21)"/>
<path d="M-0.5,122.2 L0.5,120.8 L1.5,119.5 L2.5,118.1 L3.4,116.7 L4.4,115.3 L5.4,113.9 L6.4,112.5 L7.4,111.0 L8.4,109.6 L9.4,108.1 L10.4,106.7 L11.4,105.2 L12.5,103.8 L13.5,102.3 L14.6,100.9 L15.7,99.5 L16.8,98.1 L18.0,96.7 L19.1,95.3 L20.3,93.9 L21.6,92.6 L22.8,91.3 L24.1,90.0 L25.4,88.8 L26.8,87.6 L28.1,86.4 L29.5,85.3 L31.0,84.2 L32.4,83.2 L33.9,82.2 L35.4,81.2 L37.0,80.3 L38.6,79.4 L40.2,78.6 L41.8,77.8 L43.5,77.1 L45.1,76.4 L46.9,75.8 L48.6,75.3 L50.4,74.8 L52.2,74.3 L54.0,73.9 L55.8,73.6 L57.6,73.3 L59.4,73.1 L61.3,72.9 L63.1,72.8 L65.0,72.8 L66.9,72.7 L68.7,72.8 L70.6,72.9 L72.4,73.0 L74.3,73.1 L76.1,73.3 L77.9,73.6 L79.8,73.9 L81.6,74.2 L83.4,74.6 L85.1,75.0 L86.9,75.5 L88.6,75.9 L90.3,76.5 L92.0,77.0 L93.7,77.6 L95.4,78.2 L97.0,78.9 L98.6,79.5 L100.2,80.2 L101.8,81.0 L103.4,81.7 L105.0,82.5 L106.5,83.3 L108.1,84.1 L109.6,84.9 L111.1,85.8 L112.6,86.7 L114.1,87.5 L115.6,88.4 L117.1,89.4 L118.5,90.3 L120.0,91.2 L121.4,92.2 L122.9,93.2 L124.3,94.1 L125.7,95.1 L127.2,96.1 L128.6,97.1 L130.0,98.1 L131.4,99.1 L132.8,100.1 L134.2,101.2 L135.6,102.2 L137.0,103.3 L138.4,104.3 L139.8,105.4 L141.2,106.4 L142.6,107.5 L143.9,108.6 L145.3,109.7 L146.6,110.8 L148.0,111.9 L149.3,113.0 L150.7,114.2 L152.0,115.3 L153.3,116.4 L154.6,117.6 L155.9,118.8 L157.2,119.9 L158.5,121.1 L159.8,122.3 L161.1,123.5 L162.4,124.7 L163.6,125.9 L164.9,127.1 L166.1,128.4 L167.3,129.6 L168.5,130.8 L169.7,132.1 L170.9,133.4 L172.1,134.6 L173.3,135.9 L174.5,137.2 L175.6,138.5 L176.8,139.8 L177.9,141.1 L179.0,142.5 L180.1,143.8 L181.2,145.1 L182.3,146.5 L183.4,147.9 L184.5,149.2 L185.5,150.6 L186.5,152.0 L187.6,153.4 L188.6,154.8 L189.6,156.2 L190.5,157.7 L191.5,159.1 L192.5,160.6 L193.4,162.0 L194.3,163.5 L195.2,165.0 L196.1,166.4 L197.0,167.9 L197.9,169.4 L198.7,171.0 L199.5,172.5 L200.4,174.0 L201.2,175.6 L201.9,177.1 L202.7,178.7 L203.5,180.2 L204.2,181.8 L204.9,183.4 L205.6,185.0 L206.3,186.6 L206.9,188.3 L207.6,189.9 L208.2,191.5 L240.0,240.0 L-10.0,240.0" fill="rgb(144,75,26)"/>
<path d="M-0.1,122.4 L0.9,121.1 L1.9,119.7 L2.8,118.4 L3.8,117.0 L4.8,115.6 L5.8,114.2 L6.8,112.7 L7.7,111.3 L8.7,109.8 L9.7,108.4 L10.8,106.9 L11.8,105.5 L12.8,104.0 L13.9,102.6 L15.0,101.2 L16.1,99.7 L17.2,98.3 L18.3,97.0 L19.5,95.6 L20.7,94.2 L21.9,92.9 L23.1,91.6 L24.4,90.4 L25.7,89.1 L27.1,88.0 L28.4,86.8 L29.8,85.7 L31.2,84.6 L32.7,83.6 L34.2,82.6 L35.7,81.6 L37.2,80.7 L38.8,79.9 L40.4,79.1 L42.0,78.3 L43.6,77.6 L45.3,76.9 L47.0,76.3 L48.8,75.8 L50.5,75.3 L52.3,74.8 L54.1,74.5 L55.9,74.1 L57.7,73.9 L59.5,73.7 L61.3,73.5 L63.2,73.4 L65.0,73.3 L66.9,73.3 L68.7,73.3 L70.5,73.4 L72.4,73.5 L74.2,73.7 L76.1,73.9 L77.9,74.1 L79.7,74.4 L81.5,74.8 L83.2,75.1 L85.0,75.5 L86.8,76.0 L88.5,76.5 L90.2,77.0 L91.9,77.5 L93.5,78.1 L95.2,78.7 L96.8,79.3 L98.5,80.0 L100.1,80.7 L101.7,81.4 L103.2,82.1 L104.8,82.9 L106.3,83.7 L107.9,84.5 L109.4,85.3 L110.9,86.2 L112.4,87.0 L113.9,87.9 L115.4,88.8 L116.9,89.7 L118.3,90.6 L119.8,91.6 L121.2,92.5 L122.7,93.5 L124.1,94.4 L125.6,95.4 L127.0,96.4 L128.4,97.4 L129.8,98.4 L131.2,99.4 L132.7,100.4 L134.1,101.4 L135.5,102.5 L136.9,103.5 L138.3,104.5 L139.6,105.6 L141.0,106.7 L142.4,107.7 L143.8,108.8 L145.1,109.9 L146.5,111.0 L147.8,112.1 L149.2,113.2 L150.5,114.4 L151.8,115.5 L153.2,116.6 L154.5,117.8 L155.8,118.9 L157.1,120.1 L158.4,121.3 L159.7,122.4 L160.9,123.6 L162.2,124.8 L163.5,126.0 L164.7,127.3 L166.0,128.5 L167.2,129.7 L168.4,131.0 L169.6,132.2 L170.8,133.5 L172.0,134.8 L173.2,136.0 L174.3,137.3 L175.5,138.6 L176.6,139.9 L177.8,141.2 L178.9,142.6 L180.0,143.9 L181.1,145.2 L182.2,146.6 L183.3,148.0 L184.3,149.3 L185.4,150.7 L186.4,152.1 L187.4,153.5 L188.4,154.9 L189.4,156.3 L190.4,157.8 L191.4,159.2 L192.3,160.6 L193.3,162.1 L194.2,163.6 L195.1,165.0 L196.0,166.5 L196.9,168.0 L197.7,169.5 L198.6,171.0 L199.4,172.6 L200.2,174.1 L201.0,175.6 L201.8,177.2 L202.6,178.7 L203.3,180.3 L204.0,181.9 L204.8,183.5 L205.5,185.1 L206.1,186.7 L206.8,188.3 L207.4,190.0 L208.0,191.6 L240.0,240.0 L-10.0,240.0" fill="rgb(158,85,31)"/>
<path d="M0.3,122.7 L1.3,121.4 L2.2,120.0 L3.2,118.6 L4.2,117.2 L5.2,115.8 L6.1,114.4 L7.1,113.0 L8.1,111.5 L9.1,110.1 L10.1,108.6 L11.1,107.2 L12.2,105.7 L13.2,104.3 L14.3,102.9 L15.3,101.4 L16.4,100.0 L17.5,98.6 L18.7,97.3 L19.8,95.9 L21.0,94.6 L22.2,93.2 L23.5,92.0 L24.7,90.7 L26.0,89.5 L27.4,88.3 L28.7,87.2 L30.1,86.1 L31.5,85.0 L33.0,84.0 L34.4,83.0 L35.9,82.1 L37.5,81.2 L39.0,80.3 L40.6,79.5 L42.2,78.8 L43.8,78.1 L45.5,77.4 L47.2,76.8 L48.9,76.3 L50.6,75.8 L52.4,75.4 L54.2,75.0 L55.9,74.7 L57.7,74.4 L59.5,74.2 L61.4,74.0 L63.2,73.9 L65.0,73.9 L66.9,73.8 L68.7,73.9 L70.5,73.9 L72.3,74.1 L74.2,74.2 L76.0,74.4 L77.8,74.7 L79.6,75.0 L81.4,75.3 L83.1,75.7 L84.9,76.1 L86.6,76.5 L88.3,77.0 L90.0,77.5 L91.7,78.0 L93.4,78.6 L95.0,79.2 L96.7,79.8 L98.3,80.5 L99.9,81.1 L101.5,81.8 L103.0,82.6 L104.6,83.3 L106.1,84.1 L107.7,84.9 L109.2,85.7 L110.7,86.5 L112.2,87.4 L113.7,88.3 L115.2,89.2 L116.7,90.1 L118.1,91.0 L119.6,91.9 L121.0,92.8 L122.5,93.8 L123.9,94.7 L125.4,95.7 L126.8,96.7 L128.2,97.7 L129.6,98.7 L131.1,99.7 L132.5,100.7 L133.9,101.7 L135.3,102.7 L136.7,103.7 L138.1,104.8 L139.5,105.8 L140.9,106.9 L142.2,108.0 L143.6,109.0 L145.0,110.1 L146.3,111.2 L147.7,112.3 L149.0,113.4 L150.4,114.5 L151.7,115.7 L153.0,116.8 L154.3,117.9 L155.6,119.1 L156.9,120.3 L158.2,121.4 L159.5,122.6 L160.8,123.8 L162.1,125.0 L163.3,126.2 L164.6,127.4 L165.8,128.6 L167.0,129.9 L168.3,131.1 L169.5,132.4 L170.7,133.6 L171.9,134.9 L173.0,136.2 L174.2,137.4 L175.4,138.7 L176.5,140.0 L177.6,141.4 L178.8,142.7 L179.9,144.0 L181.0,145.4 L182.1,146.7 L183.1,148.1 L184.2,149.4 L185.2,150.8 L186.3,152.2 L187.3,153.6 L188.3,155.0 L189.3,156.4 L190.3,157.8 L191.2,159.3 L192.2,160.7 L193.1,162.2 L194.1,163.6 L195.0,165.1 L195.9,166.6 L196.7,168.1 L197.6,169.6 L198.4,171.1 L199.3,172.6 L200.1,174.2 L200.9,175.7 L201.7,177.2 L202.4,178.8 L203.2,180.4 L203.9,182.0 L204.6,183.6 L205.3,185.2 L206.0,186.8 L206.6,188.4 L207.3,190.0 L207.9,191.7 L240.0,240.0 L-10.0,240.0" fill="rgb(173,96,37)"/>
<path d="M0.6,123.0 L1.6,121.6 L2.6,120.3 L3.6,118.9 L4.6,117.5 L5.5,116.1 L6.5,114.7 L7.5,113.2 L8.5,111.8 L9.5,110.3 L10.5,108.9 L11.5,107.5 L12.5,106.0 L13.6,104.6 L14.6,103.1 L15.7,101.7 L16.8,100.3 L17.9,98.9 L19.0,97.6 L20.2,96.2 L21.4,94.9 L22.6,93.6 L23.8,92.3 L25.1,91.1 L26.4,89.8 L27.7,88.7 L29.0,87.5 L30.4,86.5 L31.8,85.4 L33.2,84.4 L34.7,83.4 L36.2,82.5 L37.7,81.6 L39.2,80.8 L40.8,80.0 L42.4,79.2 L44.0,78.5 L45.7,77.9 L47.3,77.3 L49.0,76.8 L50.8,76.3 L52.5,75.9 L54.3,75.5 L56.0,75.2 L57.8,74.9 L59.6,74.7 L61.4,74.6 L63.2,74.5 L65.0,74.4 L66.8,74.4 L68.7,74.4 L70.5,74.5 L72.3,74.6 L74.1,74.8 L75.9,75.0 L77.7,75.2 L79.5,75.5 L81.3,75.8 L83.0,76.2 L84.8,76.6 L86.5,77.0 L88.2,77.5 L89.9,78.0 L91.6,78.5 L93.2,79.1 L94.9,79.6 L96.5,80.3 L98.1,80.9 L99.7,81.6 L101.3,82.3 L102.8,83.0 L104.4,83.7 L105.9,84.5 L107.5,85.3 L109.0,86.1 L110.5,86.9 L112.0,87.8 L113.5,88.6 L115.0,89.5 L116.5,90.4 L117.9,91.3 L119.4,92.2 L120.8,93.2 L122.3,94.1 L123.7,95.0 L125.2,96.0 L126.6,97.0 L128.0,98.0 L129.5,98.9 L130.9,99.9 L132.3,100.9 L133.7,101.9 L135.1,103.0 L136.5,104.0 L137.9,105.0 L139.3,106.1 L140.7,107.1 L142.1,108.2 L143.4,109.3 L144.8,110.3 L146.2,111.4 L147.5,112.5 L148.9,113.6 L150.2,114.7 L151.5,115.9 L152.9,117.0 L154.2,118.1 L155.5,119.3 L156.8,120.4 L158.1,121.6 L159.4,122.8 L160.7,124.0 L161.9,125.1 L163.2,126.3 L164.4,127.6 L165.7,128.8 L166.9,130.0 L168.1,131.2 L169.3,132.5 L170.5,133.7 L171.7,135.0 L172.9,136.3 L174.1,137.6 L175.2,138.9 L176.4,140.2 L177.5,141.5 L178.6,142.8 L179.7,144.1 L180.8,145.5 L181.9,146.8 L183.0,148.2 L184.1,149.5 L185.1,150.9 L186.1,152.3 L187.2,153.7 L188.2,155.1 L189.2,156.5 L190.2,157.9 L191.1,159.4 L192.1,160.8 L193.0,162.3 L193.9,163.7 L194.8,165.2 L195.7,166.7 L196.6,168.2 L197.5,169.7 L198.3,171.2 L199.1,172.7 L199.9,174.2 L200.7,175.8 L201.5,177.3 L202.3,178.9 L203.0,180.4 L203.8,182.0 L204.5,183.6 L205.2,185.2 L205.8,186.8 L206.5,188.4 L207.1,190.1 L207.7,191.7 L240.0,240.0 L-10.0,240.0" fill="rgb(188,107,43)"/>
<path d="M1.0,123.2 L2.0,121.9 L3.0,120.5 L4.0,119.2 L4.9,117.8 L5.9,116.3 L6.9,114.9 L7.9,113.5 L8.9,112.0 L9.9,110.6 L10.9,109.2 L11.9,107.7 L12.9,106.3 L13.9,104.8 L15.0,103.4 L16.1,102.0 L17.1,100.6 L18.2,99.2 L19.4,97.8 L20.5,96.5 L21.7,95.2 L22.9,93.9 L24.1,92.6 L25.4,91.4 L26.7,90.2 L28.0,89.0 L29.3,87.9 L30.7,86.8 L32.1,85.8 L33.5,84.8 L35.0,83.8 L36.4,82.9 L37.9,82.0 L39.5,81.2 L41.0,80.4 L42.6,79.7 L44.2,79.0 L45.9,78.4 L47.5,77.8 L49.2,77.3 L50.9,76.8 L52.6,76.4 L54.3,76.0 L56.1,75.7 L57.9,75.5 L59.7,75.3 L61.4,75.1 L63.2,75.0 L65.0,75.0 L66.8,74.9 L68.7,75.0 L70.5,75.0 L72.3,75.2 L74.1,75.3 L75.9,75.5 L77.6,75.8 L79.4,76.0 L81.2,76.4 L82.9,76.7 L84.6,77.1 L86.4,77.5 L88.1,78.0 L89.7,78.5 L91.4,79.0 L93.1,79.5 L94.7,80.1 L96.3,80.7 L97.9,81.4 L99.5,82.0 L101.1,82.7 L102.7,83.4 L104.2,84.2 L105.7,84.9 L107.3,85.7 L108.8,86.5 L110.3,87.3 L111.8,88.2 L113.3,89.0 L114.8,89.9 L116.3,90.8 L117.7,91.6 L119.2,92.6 L120.6,93.5 L122.1,94.4 L123.5,95.4 L125.0,96.3 L126.4,97.3 L127.8,98.2 L129.3,99.2 L130.7,100.2 L132.1,101.2 L133.5,102.2 L134.9,103.2 L136.3,104.2 L137.7,105.3 L139.1,106.3 L140.5,107.3 L141.9,108.4 L143.3,109.5 L144.6,110.5 L146.0,111.6 L147.4,112.7 L148.7,113.8 L150.1,114.9 L151.4,116.0 L152.7,117.2 L154.0,118.3 L155.3,119.4 L156.7,120.6 L157.9,121.8 L159.2,122.9 L160.5,124.1 L161.8,125.3 L163.0,126.5 L164.3,127.7 L165.5,128.9 L166.8,130.1 L168.0,131.4 L169.2,132.6 L170.4,133.9 L171.6,135.1 L172.8,136.4 L173.9,137.7 L175.1,139.0 L176.2,140.3 L177.4,141.6 L178.5,142.9 L179.6,144.2 L180.7,145.6 L181.8,146.9 L182.9,148.3 L183.9,149.6 L185.0,151.0 L186.0,152.4 L187.0,153.8 L188.0,155.2 L189.0,156.6 L190.0,158.0 L191.0,159.5 L191.9,160.9 L192.9,162.3 L193.8,163.8 L194.7,165.3 L195.6,166.8 L196.5,168.2 L197.3,169.7 L198.2,171.3 L199.0,172.8 L199.8,174.3 L200.6,175.8 L201.4,177.4 L202.1,178.9 L202.9,180.5 L203.6,182.1 L204.3,183.7 L205.0,185.3 L205.7,186.9 L206.3,188.5 L207.0,190.1 L207.6,191.8 L240.0,240.0 L-10.0,240.0" fill="rgb(203,119,50)"/>
<path d="M1.4,123.5 L2.4,122.2 L3.4,120.8 L4.3,119.4 L5.3,118.0 L6.3,116.6 L7.3,115.2 L8.2,113.7 L9.2,112.3 L10.2,110.9 L11.2,109.4 L12.2,108.0 L13.3,106.5 L14.3,105.1 L15.3,103.7 L16.4,102.3 L17.5,100.9 L18.6,99.5 L19.7,98.1 L20.9,96.8 L22.0,95.5 L23.2,94.2 L24.5,93.0 L25.7,91.7 L27.0,90.6 L28.3,89.4 L29.6,88.3 L31.0,87.2 L32.4,86.2 L33.8,85.2 L35.2,84.2 L36.7,83.3 L38.2,82.5 L39.7,81.7 L41.3,80.9 L42.8,80.2 L44.4,79.5 L46.0,78.9 L47.7,78.3 L49.3,77.8 L51.0,77.3 L52.7,76.9 L54.4,76.6 L56.2,76.3 L57.9,76.0 L59.7,75.8 L61.5,75.7 L63.3,75.6 L65.1,75.5 L66.8,75.5 L68.6,75.5 L70.4,75.6 L72.2,75.7 L74.0,75.9 L75.8,76.1 L77.6,76.3 L79.3,76.6 L81.1,76.9 L82.8,77.2 L84.5,77.6 L86.2,78.0 L87.9,78.5 L89.6,79.0 L91.2,79.5 L92.9,80.0 L94.5,80.6 L96.1,81.2 L97.7,81.8 L99.3,82.5 L100.9,83.2 L102.5,83.9 L104.0,84.6 L105.5,85.3 L107.1,86.1 L108.6,86.9 L110.1,87.7 L111.6,88.5 L113.1,89.4 L114.6,90.2 L116.1,91.1 L117.5,92.0 L119.0,92.9 L120.4,93.8 L121.9,94.7 L123.3,95.7 L124.8,96.6 L126.2,97.6 L127.7,98.5 L129.1,99.5 L130.5,100.5 L131.9,101.5 L133.3,102.5 L134.8,103.5 L136.2,104.5 L137.6,105.5 L139.0,106.5 L140.3,107.6 L141.7,108.6 L143.1,109.7 L144.5,110.7 L145.8,111.8 L147.2,112.9 L148.6,114.0 L149.9,115.1 L151.2,116.2 L152.6,117.3 L153.9,118.5 L155.2,119.6 L156.5,120.8 L157.8,121.9 L159.1,123.1 L160.4,124.3 L161.6,125.4 L162.9,126.6 L164.2,127.8 L165.4,129.1 L166.6,130.3 L167.9,131.5 L169.1,132.8 L170.3,134.0 L171.5,135.3 L172.6,136.5 L173.8,137.8 L175.0,139.1 L176.1,140.4 L177.3,141.7 L178.4,143.0 L179.5,144.3 L180.6,145.7 L181.7,147.0 L182.7,148.4 L183.8,149.7 L184.9,151.1 L185.9,152.5 L186.9,153.9 L187.9,155.3 L188.9,156.7 L189.9,158.1 L190.9,159.5 L191.8,161.0 L192.7,162.4 L193.7,163.9 L194.6,165.4 L195.5,166.8 L196.3,168.3 L197.2,169.8 L198.0,171.3 L198.9,172.8 L199.7,174.4 L200.5,175.9 L201.2,177.5 L202.0,179.0 L202.7,180.6 L203.5,182.2 L204.2,183.7 L204.9,185.3 L205.5,186.9 L206.2,188.6 L206.8,190.2 L207.4,191.8 L240.0,240.0 L-10.0,240.0" fill="rgb(219,131,58)"/>
<path d="M1.8,123.8 L2.7,122.4 L3.7,121.1 L4.7,119.7 L5.7,118.3 L6.7,116.9 L7.6,115.4 L8.6,114.0 L9.6,112.6 L10.6,111.1 L11.6,109.7 L12.6,108.2 L13.6,106.8 L14.7,105.4 L15.7,104.0 L16.8,102.6 L17.9,101.2 L19.0,99.8 L20.1,98.4 L21.2,97.1 L22.4,95.8 L23.6,94.5 L24.8,93.3 L26.0,92.1 L27.3,90.9 L28.6,89.8 L29.9,88.7 L31.3,87.6 L32.7,86.6 L34.1,85.6 L35.5,84.7 L37.0,83.8 L38.4,82.9 L39.9,82.1 L41.5,81.4 L43.0,80.6 L44.6,80.0 L46.2,79.4 L47.8,78.8 L49.5,78.3 L51.1,77.8 L52.8,77.4 L54.5,77.1 L56.3,76.8 L58.0,76.6 L59.8,76.4 L61.5,76.2 L63.3,76.1 L65.1,76.0 L66.8,76.0 L68.6,76.1 L70.4,76.1 L72.2,76.3 L74.0,76.4 L75.7,76.6 L77.5,76.8 L79.2,77.1 L81.0,77.4 L82.7,77.8 L84.4,78.1 L86.1,78.6 L87.8,79.0 L89.4,79.5 L91.1,80.0 L92.7,80.5 L94.3,81.1 L96.0,81.7 L97.6,82.3 L99.1,82.9 L100.7,83.6 L102.3,84.3 L103.8,85.0 L105.3,85.8 L106.9,86.5 L108.4,87.3 L109.9,88.1 L111.4,88.9 L112.9,89.7 L114.4,90.6 L115.9,91.4 L117.3,92.3 L118.8,93.2 L120.2,94.1 L121.7,95.0 L123.2,96.0 L124.6,96.9 L126.0,97.8 L127.5,98.8 L128.9,99.8 L130.3,100.7 L131.8,101.7 L133.2,102.7 L134.6,103.7 L136.0,104.7 L137.4,105.7 L138.8,106.8 L140.2,107.8 L141.6,108.8 L142.9,109.9 L144.3,111.0 L145.7,112.0 L147.0,113.1 L148.4,114.2 L149.7,115.3 L151.1,116.4 L152.4,117.5 L153.7,118.6 L155.1,119.8 L156.4,120.9 L157.7,122.1 L158.9,123.2 L160.2,124.4 L161.5,125.6 L162.8,126.8 L164.0,128.0 L165.3,129.2 L166.5,130.4 L167.7,131.6 L168.9,132.9 L170.1,134.1 L171.3,135.4 L172.5,136.7 L173.7,137.9 L174.8,139.2 L176.0,140.5 L177.1,141.8 L178.2,143.1 L179.4,144.4 L180.5,145.8 L181.5,147.1 L182.6,148.5 L183.7,149.8 L184.7,151.2 L185.8,152.6 L186.8,154.0 L187.8,155.4 L188.8,156.8 L189.8,158.2 L190.7,159.6 L191.7,161.1 L192.6,162.5 L193.5,164.0 L194.4,165.4 L195.3,166.9 L196.2,168.4 L197.1,169.9 L197.9,171.4 L198.7,172.9 L199.5,174.4 L200.3,176.0 L201.1,177.5 L201.9,179.1 L202.6,180.6 L203.3,182.2 L204.0,183.8 L204.7,185.4 L205.4,187.0 L206.0,188.6 L206.7,190.2 L207.3,191.9 L240.0,240.0 L-10.0,240.0" fill="rgb(235,145,67)"/>
<path d="M2.1,124.0 L3.1,122.7 L4.1,121.3 L5.1,119.9 L6.0,118.5 L7.0,117.1 L8.0,115.7 L9.0,114.3 L10.0,112.8 L11.0,111.4 L12.0,109.9 L13.0,108.5 L14.0,107.1 L15.0,105.6 L16.1,104.2 L17.1,102.8 L18.2,101.4 L19.3,100.1 L20.4,98.7 L21.6,97.4 L22.7,96.1 L23.9,94.9 L25.1,93.6 L26.4,92.4 L27.6,91.3 L28.9,90.1 L30.2,89.0 L31.6,88.0 L32.9,87.0 L34.3,86.0 L35.8,85.1 L37.2,84.2 L38.7,83.4 L40.2,82.6 L41.7,81.8 L43.2,81.1 L44.8,80.5 L46.4,79.9 L48.0,79.3 L49.6,78.8 L51.3,78.4 L53.0,78.0 L54.6,77.6 L56.4,77.3 L58.1,77.1 L59.8,76.9 L61.6,76.7 L63.3,76.6 L65.1,76.6 L66.8,76.6 L68.6,76.6 L70.4,76.7 L72.1,76.8 L73.9,77.0 L75.7,77.2 L77.4,77.4 L79.1,77.7 L80.9,78.0 L82.6,78.3 L84.3,78.7 L86.0,79.1 L87.6,79.5 L89.3,80.0 L90.9,80.5 L92.6,81.0 L94.2,81.6 L95.8,82.1 L97.4,82.8 L98.9,83.4 L100.5,84.0 L102.1,84.7 L103.6,85.4 L105.2,86.2 L106.7,86.9 L108.2,87.7 L109.7,88.5 L111.2,89.3 L112.7,90.1 L114.2,90.9 L115.7,91.8 L117.1,92.7 L118.6,93.5 L120.1,94.4 L121.5,95.4 L123.0,96.3 L124.4,97.2 L125.8,98.1 L127.3,99.1 L128.7,100.0 L130.1,101.0 L131.6,102.0 L133.0,103.0 L134.4,104.0 L135.8,105.0 L137.2,106.0 L138.6,107.0 L140.0,108.0 L141.4,109.1 L142.8,110.1 L144.2,111.2 L145.5,112.2 L146.9,113.3 L148.2,114.4 L149.6,115.5 L150.9,116.6 L152.3,117.7 L153.6,118.8 L154.9,120.0 L156.2,121.1 L157.5,122.2 L158.8,123.4 L160.1,124.6 L161.4,125.8 L162.6,126.9 L163.9,128.1 L165.1,129.3 L166.4,130.6 L167.6,131.8 L168.8,133.0 L170.0,134.3 L171.2,135.5 L172.4,136.8 L173.5,138.1 L174.7,139.3 L175.9,140.6 L177.0,141.9 L178.1,143.2 L179.2,144.6 L180.3,145.9 L181.4,147.2 L182.5,148.6 L183.5,149.9 L184.6,151.3 L185.6,152.7 L186.7,154.1 L187.7,155.5 L188.7,156.9 L189.6,158.3 L190.6,159.7 L191.5,161.2 L192.5,162.6 L193.4,164.1 L194.3,165.5 L195.2,167.0 L196.1,168.5 L196.9,170.0 L197.8,171.5 L198.6,173.0 L199.4,174.5 L200.2,176.1 L201.0,177.6 L201.7,179.1 L202.5,180.7 L203.2,182.3 L203.9,183.9 L204.6,185.5 L205.2,187.1 L205.9,188.7 L206.5,190.3 L207.1,191.9 L240.0,240.0 L-10.0,240.0" fill="rgb(244,152,72)"/>
<path d="M2.8,124.5 L3.8,123.2 L4.7,121.8 L5.7,120.4 L6.7,119.0 L7.7,117.6 L8.7,116.1 L9.6,114.7 L10.6,113.3 L11.6,111.8 L12.6,110.4 L13.6,109.0 L14.6,107.5 L15.7,106.1 L16.7,104.7 L17.8,103.3 L18.8,101.9 L19.9,100.6 L21.0,99.3 L22.2,97.9 L23.3,96.7 L24.5,95.4 L25.7,94.2 L26.9,93.0 L28.2,91.9 L29.4,90.7 L30.7,89.7 L32.1,88.6 L33.4,87.6 L34.8,86.7 L36.2,85.8 L37.6,84.9 L39.1,84.1 L40.5,83.3 L42.0,82.5 L43.5,81.8 L45.1,81.2 L46.7,80.6 L48.2,80.1 L49.8,79.6 L51.5,79.1 L53.1,78.7 L54.8,78.4 L56.5,78.1 L58.2,77.9 L59.9,77.7 L61.6,77.5 L63.3,77.4 L65.1,77.4 L66.8,77.4 L68.6,77.4 L70.3,77.5 L72.1,77.6 L73.8,77.8 L75.6,77.9 L77.3,78.2 L79.0,78.4 L80.7,78.7 L82.4,79.1 L84.1,79.4 L85.8,79.8 L87.4,80.3 L89.1,80.7 L90.7,81.2 L92.3,81.8 L93.9,82.3 L95.5,82.9 L97.1,83.5 L98.6,84.1 L100.2,84.8 L101.7,85.5 L103.3,86.2 L104.8,86.9 L106.3,87.6 L107.8,88.4 L109.3,89.2 L110.8,90.0 L112.3,90.8 L113.8,91.6 L115.3,92.5 L116.7,93.3 L118.2,94.2 L119.6,95.1 L121.1,96.0 L122.5,96.9 L124.0,97.9 L125.4,98.8 L126.8,99.8 L128.3,100.7 L129.7,101.7 L131.1,102.6 L132.5,103.6 L133.9,104.6 L135.4,105.6 L136.8,106.6 L138.1,107.6 L139.5,108.7 L140.9,109.7 L142.3,110.7 L143.7,111.8 L145.0,112.9 L146.4,113.9 L147.7,115.0 L149.1,116.1 L150.4,117.2 L151.7,118.3 L153.1,119.4 L154.4,120.6 L155.7,121.7 L157.0,122.8 L158.3,124.0 L159.5,125.2 L160.8,126.3 L162.1,127.5 L163.3,128.7 L164.6,129.9 L165.8,131.1 L167.0,132.3 L168.2,133.6 L169.4,134.8 L170.6,136.1 L171.8,137.3 L173.0,138.6 L174.1,139.9 L175.3,141.2 L176.4,142.5 L177.5,143.8 L178.6,145.1 L179.7,146.4 L180.8,147.7 L181.9,149.1 L182.9,150.4 L184.0,151.8 L185.0,153.2 L186.0,154.5 L187.0,155.9 L188.0,157.3 L189.0,158.7 L189.9,160.2 L190.9,161.6 L191.8,163.0 L192.7,164.5 L193.6,165.9 L194.5,167.4 L195.4,168.9 L196.2,170.4 L197.1,171.9 L197.9,173.4 L198.7,174.9 L199.5,176.4 L200.2,177.9 L201.0,179.5 L201.7,181.1 L202.5,182.6 L203.2,184.2 L203.8,185.8 L204.5,187.4 L205.1,189.0 L205.8,190.6 L206.4,192.2 L240.0,240.0 L-10.0,240.0" fill="rgb(246,160,83)"/>
<path d="M3.4,125.0 L4.4,123.6 L5.4,122.2 L6.4,120.8 L7.4,119.4 L8.3,118.0 L9.3,116.6 L10.3,115.2 L11.3,113.7 L12.3,112.3 L13.3,110.8 L14.3,109.4 L15.3,108.0 L16.3,106.6 L17.4,105.2 L18.4,103.8 L19.5,102.4 L20.6,101.1 L21.6,99.8 L22.8,98.5 L23.9,97.2 L25.1,96.0 L26.2,94.8 L27.5,93.6 L28.7,92.4 L29.9,91.3 L31.2,90.3 L32.5,89.3 L33.9,88.3 L35.2,87.3 L36.6,86.4 L38.0,85.6 L39.4,84.8 L40.9,84.0 L42.4,83.3 L43.9,82.6 L45.4,81.9 L46.9,81.4 L48.5,80.8 L50.1,80.3 L51.7,79.9 L53.3,79.5 L54.9,79.2 L56.6,78.9 L58.3,78.7 L60.0,78.5 L61.7,78.3 L63.4,78.2 L65.1,78.2 L66.8,78.2 L68.6,78.2 L70.3,78.3 L72.0,78.4 L73.7,78.5 L75.5,78.7 L77.2,79.0 L78.9,79.2 L80.6,79.5 L82.3,79.9 L83.9,80.2 L85.6,80.6 L87.2,81.1 L88.8,81.5 L90.5,82.0 L92.1,82.5 L93.6,83.1 L95.2,83.6 L96.8,84.2 L98.3,84.9 L99.9,85.5 L101.4,86.2 L102.9,86.9 L104.5,87.6 L106.0,88.3 L107.5,89.1 L109.0,89.9 L110.4,90.7 L111.9,91.5 L113.4,92.3 L114.8,93.2 L116.3,94.0 L117.8,94.9 L119.2,95.8 L120.7,96.7 L122.1,97.6 L123.5,98.5 L125.0,99.5 L126.4,100.4 L127.8,101.4 L129.2,102.3 L130.7,103.3 L132.1,104.3 L133.5,105.3 L134.9,106.3 L136.3,107.3 L137.7,108.3 L139.1,109.3 L140.4,110.3 L141.8,111.4 L143.2,112.4 L144.5,113.5 L145.9,114.6 L147.2,115.6 L148.6,116.7 L149.9,117.8 L151.2,118.9 L152.5,120.0 L153.9,121.2 L155.2,122.3 L156.4,123.4 L157.7,124.6 L159.0,125.8 L160.3,126.9 L161.5,128.1 L162.8,129.3 L164.0,130.5 L165.2,131.7 L166.4,132.9 L167.7,134.1 L168.8,135.4 L170.0,136.6 L171.2,137.9 L172.4,139.1 L173.5,140.4 L174.7,141.7 L175.8,143.0 L176.9,144.3 L178.0,145.6 L179.1,146.9 L180.2,148.2 L181.2,149.6 L182.3,150.9 L183.3,152.3 L184.3,153.6 L185.4,155.0 L186.4,156.4 L187.3,157.8 L188.3,159.2 L189.3,160.6 L190.2,162.0 L191.1,163.5 L192.0,164.9 L192.9,166.4 L193.8,167.8 L194.7,169.3 L195.5,170.8 L196.4,172.3 L197.2,173.8 L198.0,175.3 L198.8,176.8 L199.5,178.3 L200.3,179.8 L201.0,181.4 L201.7,182.9 L202.4,184.5 L203.1,186.1 L203.8,187.7 L204.4,189.3 L205.0,190.9 L205.6,192.5 L240.0,240.0 L-10.0,240.0" fill="rgb(248,168,95)"/>
<path d="M4.1,125.5 L5.1,124.1 L6.0,122.7 L7.0,121.3 L8.0,119.9 L9.0,118.5 L10.0,117.0 L11.0,115.6 L11.9,114.2 L12.9,112.7 L13.9,111.3 L14.9,109.9 L15.9,108.5 L17.0,107.1 L18.0,105.7 L19.0,104.3 L20.1,102.9 L21.2,101.6 L22.3,100.3 L23.4,99.0 L24.5,97.7 L25.6,96.5 L26.8,95.3 L28.0,94.2 L29.2,93.0 L30.5,92.0 L31.7,90.9 L33.0,89.9 L34.3,88.9 L35.7,88.0 L37.0,87.1 L38.4,86.3 L39.8,85.5 L41.3,84.7 L42.7,84.0 L44.2,83.3 L45.7,82.7 L47.2,82.1 L48.7,81.6 L50.3,81.1 L51.9,80.7 L53.5,80.3 L55.1,80.0 L56.7,79.7 L58.4,79.5 L60.0,79.3 L61.7,79.1 L63.4,79.0 L65.1,79.0 L66.8,79.0 L68.5,79.0 L70.2,79.1 L72.0,79.2 L73.7,79.3 L75.4,79.5 L77.1,79.8 L78.8,80.0 L80.4,80.3 L82.1,80.6 L83.8,81.0 L85.4,81.4 L87.0,81.8 L88.6,82.3 L90.2,82.8 L91.8,83.3 L93.4,83.8 L94.9,84.4 L96.5,85.0 L98.0,85.6 L99.6,86.3 L101.1,86.9 L102.6,87.6 L104.1,88.3 L105.6,89.1 L107.1,89.8 L108.6,90.6 L110.1,91.4 L111.5,92.2 L113.0,93.0 L114.4,93.9 L115.9,94.7 L117.3,95.6 L118.8,96.5 L120.2,97.4 L121.7,98.3 L123.1,99.2 L124.5,100.1 L126.0,101.1 L127.4,102.0 L128.8,103.0 L130.2,104.0 L131.6,104.9 L133.0,105.9 L134.4,106.9 L135.8,107.9 L137.2,108.9 L138.6,109.9 L140.0,111.0 L141.3,112.0 L142.7,113.1 L144.0,114.1 L145.4,115.2 L146.7,116.3 L148.1,117.3 L149.4,118.4 L150.7,119.5 L152.0,120.6 L153.3,121.8 L154.6,122.9 L155.9,124.0 L157.2,125.2 L158.5,126.3 L159.7,127.5 L161.0,128.7 L162.2,129.9 L163.4,131.1 L164.7,132.3 L165.9,133.5 L167.1,134.7 L168.3,135.9 L169.4,137.2 L170.6,138.4 L171.8,139.7 L172.9,140.9 L174.1,142.2 L175.2,143.5 L176.3,144.8 L177.4,146.1 L178.5,147.4 L179.5,148.7 L180.6,150.1 L181.6,151.4 L182.7,152.8 L183.7,154.1 L184.7,155.5 L185.7,156.9 L186.7,158.2 L187.6,159.6 L188.6,161.1 L189.5,162.5 L190.5,163.9 L191.4,165.3 L192.3,166.8 L193.1,168.2 L194.0,169.7 L194.8,171.2 L195.7,172.6 L196.5,174.1 L197.3,175.6 L198.0,177.1 L198.8,178.7 L199.6,180.2 L200.3,181.7 L201.0,183.3 L201.7,184.8 L202.4,186.4 L203.0,188.0 L203.7,189.6 L204.3,191.2 L204.9,192.8 L240.0,240.0 L-10.0,240.0" fill="rgb(250,175,105)"/>
<path d="M4.7,125.9 L5.7,124.6 L6.7,123.2 L7.7,121.8 L8.7,120.4 L9.7,118.9 L10.6,117.5 L11.6,116.1 L12.6,114.6 L13.6,113.2 L14.6,111.8 L15.6,110.3 L16.6,108.9 L17.6,107.5 L18.6,106.1 L19.7,104.8 L20.7,103.4 L21.8,102.1 L22.9,100.8 L24.0,99.5 L25.1,98.3 L26.2,97.1 L27.4,95.9 L28.6,94.7 L29.8,93.6 L31.0,92.6 L32.2,91.5 L33.5,90.5 L34.8,89.6 L36.1,88.7 L37.5,87.8 L38.8,86.9 L40.2,86.2 L41.6,85.4 L43.1,84.7 L44.5,84.0 L46.0,83.4 L47.5,82.9 L49.0,82.3 L50.5,81.9 L52.1,81.5 L53.6,81.1 L55.2,80.8 L56.8,80.5 L58.5,80.3 L60.1,80.1 L61.8,79.9 L63.5,79.8 L65.1,79.8 L66.8,79.8 L68.5,79.8 L70.2,79.9 L71.9,80.0 L73.6,80.1 L75.3,80.3 L77.0,80.6 L78.6,80.8 L80.3,81.1 L81.9,81.4 L83.6,81.8 L85.2,82.2 L86.8,82.6 L88.4,83.1 L90.0,83.5 L91.6,84.0 L93.1,84.6 L94.7,85.1 L96.2,85.7 L97.7,86.3 L99.3,87.0 L100.8,87.7 L102.3,88.3 L103.8,89.0 L105.2,89.8 L106.7,90.5 L108.2,91.3 L109.7,92.1 L111.1,92.9 L112.6,93.7 L114.0,94.6 L115.5,95.4 L116.9,96.3 L118.4,97.2 L119.8,98.1 L121.2,99.0 L122.7,99.9 L124.1,100.8 L125.5,101.8 L126.9,102.7 L128.3,103.7 L129.8,104.6 L131.2,105.6 L132.6,106.6 L134.0,107.6 L135.3,108.6 L136.7,109.6 L138.1,110.6 L139.5,111.6 L140.8,112.7 L142.2,113.7 L143.6,114.7 L144.9,115.8 L146.2,116.9 L147.6,118.0 L148.9,119.1 L150.2,120.2 L151.5,121.3 L152.8,122.4 L154.1,123.5 L155.4,124.6 L156.7,125.8 L157.9,126.9 L159.2,128.1 L160.4,129.3 L161.7,130.4 L162.9,131.6 L164.1,132.8 L165.3,134.0 L166.5,135.3 L167.7,136.5 L168.9,137.7 L170.0,139.0 L171.2,140.2 L172.3,141.5 L173.5,142.7 L174.6,144.0 L175.7,145.3 L176.8,146.6 L177.8,147.9 L178.9,149.2 L180.0,150.6 L181.0,151.9 L182.0,153.2 L183.1,154.6 L184.1,156.0 L185.1,157.3 L186.0,158.7 L187.0,160.1 L187.9,161.5 L188.9,162.9 L189.8,164.3 L190.7,165.7 L191.6,167.2 L192.4,168.6 L193.3,170.1 L194.1,171.6 L195.0,173.0 L195.8,174.5 L196.6,176.0 L197.3,177.5 L198.1,179.0 L198.8,180.5 L199.6,182.1 L200.3,183.6 L201.0,185.2 L201.6,186.7 L202.3,188.3 L202.9,189.9 L203.5,191.4 L204.1,193.1 L240.0,240.0 L-10.0,240.0" fill="rgb(252,180,113)"/>
<path d="M5.4,126.4 L6.4,125.0 L7.4,123.6 L8.3,122.2 L9.3,120.8 L10.3,119.4 L11.3,117.9 L12.3,116.5 L13.3,115.1 L14.3,113.6 L15.2,112.2 L16.2,110.8 L17.2,109.4 L18.3,108.0 L19.3,106.6 L20.3,105.3 L21.4,103.9 L22.4,102.6 L23.5,101.3 L24.6,100.1 L25.7,98.8 L26.8,97.6 L27.9,96.5 L29.1,95.3 L30.3,94.2 L31.5,93.2 L32.7,92.2 L34.0,91.2 L35.3,90.2 L36.6,89.3 L37.9,88.5 L39.2,87.6 L40.6,86.9 L42.0,86.1 L43.4,85.4 L44.8,84.8 L46.3,84.2 L47.7,83.6 L49.2,83.1 L50.7,82.6 L52.3,82.2 L53.8,81.9 L55.4,81.6 L57.0,81.3 L58.6,81.1 L60.2,80.9 L61.8,80.7 L63.5,80.6 L65.1,80.6 L66.8,80.6 L68.5,80.6 L70.2,80.7 L71.8,80.8 L73.5,80.9 L75.2,81.1 L76.8,81.3 L78.5,81.6 L80.1,81.9 L81.8,82.2 L83.4,82.6 L85.0,83.0 L86.6,83.4 L88.2,83.8 L89.7,84.3 L91.3,84.8 L92.8,85.3 L94.4,85.9 L95.9,86.5 L97.4,87.1 L98.9,87.7 L100.4,88.4 L101.9,89.1 L103.4,89.8 L104.9,90.5 L106.4,91.2 L107.8,92.0 L109.3,92.8 L110.7,93.6 L112.2,94.4 L113.6,95.2 L115.1,96.1 L116.5,97.0 L117.9,97.8 L119.4,98.7 L120.8,99.6 L122.2,100.6 L123.7,101.5 L125.1,102.4 L126.5,103.4 L127.9,104.3 L129.3,105.3 L130.7,106.2 L132.1,107.2 L133.5,108.2 L134.9,109.2 L136.3,110.2 L137.6,111.2 L139.0,112.3 L140.4,113.3 L141.7,114.3 L143.1,115.4 L144.4,116.4 L145.7,117.5 L147.1,118.6 L148.4,119.7 L149.7,120.8 L151.0,121.9 L152.3,123.0 L153.6,124.1 L154.9,125.2 L156.1,126.4 L157.4,127.5 L158.6,128.7 L159.9,129.8 L161.1,131.0 L162.3,132.2 L163.5,133.4 L164.7,134.6 L165.9,135.8 L167.1,137.0 L168.3,138.3 L169.4,139.5 L170.6,140.7 L171.7,142.0 L172.9,143.3 L174.0,144.5 L175.1,145.8 L176.2,147.1 L177.2,148.4 L178.3,149.7 L179.3,151.1 L180.4,152.4 L181.4,153.7 L182.4,155.1 L183.4,156.4 L184.4,157.8 L185.4,159.2 L186.3,160.5 L187.3,161.9 L188.2,163.3 L189.1,164.8 L190.0,166.2 L190.9,167.6 L191.8,169.0 L192.6,170.5 L193.4,171.9 L194.3,173.4 L195.1,174.9 L195.8,176.4 L196.6,177.9 L197.4,179.4 L198.1,180.9 L198.8,182.4 L199.5,183.9 L200.2,185.5 L200.9,187.0 L201.5,188.6 L202.2,190.2 L202.8,191.7 L203.4,193.3 L240.0,240.0 L-10.0,240.0" fill="rgb(253,184,118)"/>
</g>
<g clip-path="url(#sp)">
<g filter="url(#bl)">
<path d="M6.5,130.7 L7.5,129.4 L8.4,128.1 L9.3,126.7 L10.3,125.4 L11.2,124.0 L12.2,122.7 L13.1,121.3 L14.1,119.9 L15.0,118.5 L16.0,117.1 L16.9,115.8 L17.9,114.4 L18.9,113.0 L19.9,111.7 L20.9,110.3 L22.0,109.0 L23.0,107.7 L24.1,106.4 L25.2,105.1 L26.3,103.9 L27.4,102.7 L28.6,101.5 L29.8,100.3 L31.0,99.2 L32.2,98.1 L33.5,97.1 L34.8,96.1 L36.1,95.1 L37.4,94.2 L38.8,93.3 L40.2,92.4 L41.6,91.6 L43.0,90.9 L44.5,90.1 L46.0,89.5 L47.5,88.8 L49.0,88.3 L50.6,87.7 L52.1,87.3 L53.7,86.8 L55.3,86.4 L56.9,86.1 L58.6,85.8 L60.2,85.6 L61.9,85.4 L63.6,85.3 L65.3,85.2 L66.9,85.1 L68.6,85.1 L70.3,85.1 L72.0,85.2 L73.7,85.3 L75.4,85.5 L77.1,85.7 L78.8,85.9 L80.5,86.1 L82.1,86.4 L83.8,86.8 L85.4,87.1 L87.0,87.5 L88.6,87.9 L90.2,88.4 L91.8,88.9 L93.3,89.4 L94.9,89.9 L96.4,90.5 L98.0,91.0 L99.5,91.7 L101.0,92.3 L102.5,92.9 L104.0,93.6 L105.4,94.3 L106.9,95.0 L108.3,95.8 L109.8,96.5 L111.2,97.3 L112.7,98.1 L114.1,98.9 L115.5,99.7 L116.9,100.6 L118.3,101.4 L119.7,102.3 L121.1,103.1 L122.5,104.0 L123.9,104.9 L125.3,105.8 L126.7,106.7 L128.0,107.6 L129.4,108.6 L130.8,109.5 L132.2,110.4 L133.5,111.4 L134.9,112.4 L136.2,113.3 L137.6,114.3 L138.9,115.3 L140.2,116.3 L141.6,117.3 L142.9,118.3 L144.2,119.3 L145.5,120.4 L146.8,121.4 L148.1,122.5 L149.4,123.5 L150.7,124.6 L151.9,125.7 L153.2,126.8 L154.4,127.9 L155.7,129.0 L156.9,130.1 L158.2,131.2 L159.4,132.3 L160.6,133.5 L161.8,134.6 L163.0,135.8 L164.2,136.9 L165.4,138.1 L166.5,139.3 L167.7,140.5 L168.8,141.7 L170.0,142.9 L171.1,144.1 L172.2,145.4 L173.3,146.6 L174.4,147.8 L175.5,149.1 L176.5,150.4 L177.6,151.7 L178.6,152.9 L179.7,154.2 L180.7,155.5 L181.7,156.9 L182.7,158.2 L183.7,159.5 L184.6,160.8 L185.6,162.2 L186.5,163.6 L187.4,164.9 L188.4,166.3 L189.3,167.7 L190.1,169.1 L191.0,170.5 L191.9,171.9 L192.7,173.3 L193.5,174.8 L194.3,176.2 L195.1,177.7 L195.9,179.1 L196.7,180.6 L197.4,182.1 L198.1,183.6 L198.8,185.1 L199.5,186.6 L200.2,188.1 L200.9,189.6 L201.5,191.2 L202.1,192.7 L202.7,194.3 L203.3,195.9 L240.0,240.0 L-10.0,240.0" fill="rgb(252,182,115)"/>
<path d="M8.2,133.2 L9.1,131.9 L10.0,130.6 L11.0,129.3 L11.9,128.0 L12.8,126.6 L13.7,125.3 L14.7,123.9 L15.6,122.6 L16.5,121.2 L17.5,119.8 L18.4,118.5 L19.4,117.1 L20.4,115.8 L21.4,114.4 L22.4,113.1 L23.4,111.8 L24.4,110.5 L25.5,109.3 L26.5,108.0 L27.6,106.8 L28.8,105.6 L29.9,104.4 L31.1,103.3 L32.3,102.2 L33.5,101.1 L34.7,100.1 L36.0,99.1 L37.3,98.1 L38.6,97.2 L40.0,96.3 L41.3,95.5 L42.7,94.7 L44.1,94.0 L45.6,93.3 L47.0,92.6 L48.5,92.0 L50.0,91.4 L51.5,90.9 L53.1,90.4 L54.6,90.0 L56.2,89.6 L57.8,89.3 L59.4,89.0 L61.0,88.8 L62.7,88.6 L64.3,88.5 L66.0,88.4 L67.7,88.3 L69.3,88.3 L71.0,88.3 L72.7,88.4 L74.3,88.5 L76.0,88.7 L77.7,88.9 L79.3,89.1 L81.0,89.3 L82.6,89.6 L84.2,89.9 L85.8,90.3 L87.4,90.7 L89.0,91.1 L90.5,91.5 L92.1,92.0 L93.6,92.5 L95.2,93.0 L96.7,93.6 L98.2,94.2 L99.7,94.8 L101.1,95.4 L102.6,96.0 L104.1,96.7 L105.5,97.4 L107.0,98.1 L108.4,98.8 L109.8,99.6 L111.2,100.3 L112.7,101.1 L114.1,101.9 L115.5,102.7 L116.8,103.5 L118.2,104.4 L119.6,105.2 L121.0,106.1 L122.4,106.9 L123.7,107.8 L125.1,108.7 L126.4,109.6 L127.8,110.5 L129.1,111.4 L130.5,112.3 L131.8,113.3 L133.2,114.2 L134.5,115.1 L135.8,116.1 L137.2,117.1 L138.5,118.0 L139.8,119.0 L141.1,120.0 L142.4,121.0 L143.7,122.0 L145.0,123.0 L146.3,124.1 L147.5,125.1 L148.8,126.1 L150.0,127.2 L151.3,128.2 L152.5,129.3 L153.8,130.4 L155.0,131.5 L156.2,132.6 L157.4,133.7 L158.6,134.8 L159.8,135.9 L161.0,137.0 L162.2,138.2 L163.4,139.3 L164.5,140.5 L165.7,141.7 L166.8,142.8 L167.9,144.0 L169.1,145.2 L170.2,146.4 L171.3,147.6 L172.3,148.8 L173.4,150.1 L174.5,151.3 L175.5,152.6 L176.6,153.8 L177.6,155.1 L178.6,156.4 L179.6,157.6 L180.6,158.9 L181.6,160.2 L182.5,161.5 L183.5,162.9 L184.4,164.2 L185.4,165.5 L186.3,166.9 L187.2,168.2 L188.1,169.6 L188.9,171.0 L189.8,172.4 L190.6,173.8 L191.4,175.2 L192.2,176.6 L193.0,178.0 L193.8,179.4 L194.6,180.9 L195.3,182.3 L196.1,183.8 L196.8,185.2 L197.5,186.7 L198.2,188.2 L198.8,189.7 L199.5,191.2 L200.1,192.7 L200.7,194.3 L201.3,195.8 L201.9,197.3 L240.0,240.0 L-10.0,240.0" fill="rgb(252,180,112)"/>
<path d="M9.8,135.7 L10.7,134.4 L11.6,133.1 L12.6,131.8 L13.5,130.5 L14.4,129.2 L15.3,127.9 L16.2,126.6 L17.1,125.2 L18.0,123.9 L19.0,122.5 L19.9,121.2 L20.9,119.9 L21.8,118.5 L22.8,117.2 L23.8,115.9 L24.8,114.6 L25.8,113.4 L26.8,112.1 L27.9,110.9 L29.0,109.7 L30.1,108.5 L31.2,107.4 L32.4,106.3 L33.5,105.2 L34.7,104.1 L36.0,103.1 L37.2,102.1 L38.5,101.2 L39.8,100.3 L41.1,99.4 L42.4,98.6 L43.8,97.8 L45.2,97.1 L46.6,96.4 L48.0,95.7 L49.5,95.1 L51.0,94.6 L52.5,94.1 L54.0,93.6 L55.5,93.2 L57.1,92.8 L58.7,92.5 L60.2,92.2 L61.9,92.0 L63.5,91.8 L65.1,91.7 L66.7,91.6 L68.4,91.5 L70.0,91.5 L71.6,91.6 L73.3,91.6 L74.9,91.7 L76.6,91.9 L78.2,92.1 L79.8,92.3 L81.4,92.5 L83.1,92.8 L84.6,93.1 L86.2,93.5 L87.8,93.8 L89.3,94.2 L90.9,94.7 L92.4,95.1 L93.9,95.6 L95.4,96.2 L96.9,96.7 L98.4,97.3 L99.9,97.9 L101.3,98.5 L102.8,99.1 L104.2,99.8 L105.6,100.4 L107.0,101.1 L108.5,101.8 L109.9,102.6 L111.3,103.3 L112.6,104.1 L114.0,104.9 L115.4,105.7 L116.8,106.5 L118.1,107.3 L119.5,108.1 L120.8,109.0 L122.2,109.8 L123.5,110.7 L124.9,111.6 L126.2,112.4 L127.5,113.3 L128.9,114.2 L130.2,115.1 L131.5,116.1 L132.8,117.0 L134.1,117.9 L135.5,118.9 L136.8,119.8 L138.1,120.8 L139.3,121.7 L140.6,122.7 L141.9,123.7 L143.2,124.7 L144.4,125.7 L145.7,126.7 L147.0,127.7 L148.2,128.7 L149.4,129.8 L150.7,130.8 L151.9,131.9 L153.1,132.9 L154.3,134.0 L155.5,135.1 L156.7,136.2 L157.9,137.2 L159.1,138.4 L160.2,139.5 L161.4,140.6 L162.6,141.7 L163.7,142.9 L164.8,144.0 L165.9,145.2 L167.0,146.3 L168.1,147.5 L169.2,148.7 L170.3,149.9 L171.4,151.1 L172.4,152.3 L173.5,153.5 L174.5,154.7 L175.5,156.0 L176.6,157.2 L177.6,158.5 L178.5,159.7 L179.5,161.0 L180.5,162.3 L181.4,163.6 L182.4,164.9 L183.3,166.2 L184.2,167.5 L185.1,168.8 L186.0,170.2 L186.8,171.5 L187.7,172.9 L188.5,174.2 L189.4,175.6 L190.2,177.0 L191.0,178.4 L191.8,179.8 L192.5,181.2 L193.3,182.6 L194.0,184.0 L194.7,185.5 L195.4,186.9 L196.1,188.4 L196.8,189.8 L197.5,191.3 L198.1,192.8 L198.7,194.3 L199.3,195.8 L199.9,197.3 L200.5,198.8 L240.0,240.0 L-10.0,240.0" fill="rgb(251,178,109)"/>
<path d="M11.5,138.1 L12.4,136.9 L13.3,135.7 L14.2,134.4 L15.1,133.1 L15.9,131.8 L16.8,130.5 L17.7,129.2 L18.6,127.9 L19.6,126.6 L20.5,125.2 L21.4,123.9 L22.3,122.6 L23.3,121.3 L24.2,120.0 L25.2,118.7 L26.2,117.5 L27.2,116.2 L28.2,115.0 L29.3,113.8 L30.3,112.6 L31.4,111.4 L32.5,110.3 L33.6,109.2 L34.8,108.2 L36.0,107.1 L37.2,106.1 L38.4,105.2 L39.7,104.2 L40.9,103.3 L42.2,102.5 L43.6,101.7 L44.9,100.9 L46.3,100.2 L47.7,99.5 L49.1,98.9 L50.5,98.3 L52.0,97.7 L53.4,97.2 L54.9,96.8 L56.4,96.3 L58.0,96.0 L59.5,95.7 L61.1,95.4 L62.7,95.2 L64.2,95.0 L65.8,94.9 L67.4,94.8 L69.1,94.7 L70.7,94.7 L72.3,94.8 L73.9,94.8 L75.5,94.9 L77.1,95.1 L78.7,95.2 L80.3,95.5 L81.9,95.7 L83.5,96.0 L85.1,96.3 L86.6,96.6 L88.2,97.0 L89.7,97.4 L91.2,97.8 L92.7,98.3 L94.2,98.8 L95.7,99.3 L97.2,99.8 L98.6,100.4 L100.1,101.0 L101.5,101.6 L102.9,102.2 L104.3,102.8 L105.7,103.5 L107.1,104.2 L108.5,104.9 L109.9,105.6 L111.3,106.3 L112.6,107.1 L114.0,107.9 L115.3,108.6 L116.7,109.4 L118.0,110.2 L119.4,111.1 L120.7,111.9 L122.0,112.7 L123.3,113.6 L124.7,114.4 L126.0,115.3 L127.3,116.2 L128.6,117.1 L129.9,118.0 L131.2,118.9 L132.5,119.8 L133.8,120.7 L135.1,121.6 L136.4,122.5 L137.6,123.5 L138.9,124.4 L140.2,125.4 L141.4,126.4 L142.7,127.3 L143.9,128.3 L145.2,129.3 L146.4,130.3 L147.6,131.3 L148.8,132.3 L150.1,133.4 L151.3,134.4 L152.5,135.5 L153.6,136.5 L154.8,137.6 L156.0,138.6 L157.2,139.7 L158.3,140.8 L159.5,141.9 L160.6,143.0 L161.7,144.1 L162.9,145.2 L164.0,146.4 L165.1,147.5 L166.2,148.6 L167.2,149.8 L168.3,151.0 L169.4,152.1 L170.4,153.3 L171.5,154.5 L172.5,155.7 L173.5,156.9 L174.5,158.1 L175.5,159.4 L176.5,160.6 L177.5,161.8 L178.4,163.1 L179.4,164.4 L180.3,165.6 L181.2,166.9 L182.1,168.2 L183.0,169.5 L183.9,170.8 L184.8,172.1 L185.6,173.4 L186.5,174.8 L187.3,176.1 L188.1,177.4 L188.9,178.8 L189.7,180.2 L190.5,181.6 L191.2,182.9 L192.0,184.3 L192.7,185.7 L193.4,187.1 L194.1,188.6 L194.8,190.0 L195.4,191.4 L196.1,192.9 L196.7,194.3 L197.3,195.8 L197.9,197.3 L198.5,198.8 L199.0,200.3 L240.0,240.0 L-10.0,240.0" fill="rgb(251,176,106)"/>
<path d="M13.1,140.6 L14.0,139.4 L14.9,138.2 L15.8,136.9 L16.6,135.7 L17.5,134.4 L18.4,133.1 L19.3,131.8 L20.2,130.5 L21.1,129.2 L22.0,127.9 L22.9,126.6 L23.8,125.4 L24.7,124.1 L25.7,122.8 L26.6,121.5 L27.6,120.3 L28.6,119.1 L29.6,117.9 L30.6,116.7 L31.7,115.5 L32.7,114.4 L33.8,113.3 L34.9,112.2 L36.1,111.1 L37.2,110.1 L38.4,109.1 L39.6,108.2 L40.9,107.3 L42.1,106.4 L43.4,105.6 L44.7,104.8 L46.0,104.0 L47.4,103.3 L48.7,102.6 L50.1,102.0 L51.5,101.4 L52.9,100.9 L54.4,100.4 L55.9,99.9 L57.3,99.5 L58.9,99.2 L60.4,98.9 L61.9,98.6 L63.5,98.4 L65.0,98.2 L66.6,98.1 L68.2,98.0 L69.8,97.9 L71.4,97.9 L72.9,98.0 L74.5,98.0 L76.1,98.1 L77.7,98.3 L79.3,98.4 L80.9,98.6 L82.4,98.9 L84.0,99.2 L85.5,99.5 L87.1,99.8 L88.6,100.2 L90.1,100.6 L91.6,101.0 L93.0,101.4 L94.5,101.9 L96.0,102.4 L97.4,102.9 L98.8,103.5 L100.3,104.0 L101.7,104.6 L103.1,105.3 L104.5,105.9 L105.8,106.5 L107.2,107.2 L108.6,107.9 L109.9,108.6 L111.3,109.3 L112.6,110.1 L114.0,110.8 L115.3,111.6 L116.6,112.4 L117.9,113.2 L119.2,114.0 L120.6,114.8 L121.9,115.6 L123.2,116.5 L124.5,117.3 L125.8,118.2 L127.0,119.0 L128.3,119.9 L129.6,120.8 L130.9,121.7 L132.2,122.6 L133.4,123.5 L134.7,124.4 L136.0,125.3 L137.2,126.2 L138.5,127.2 L139.7,128.1 L140.9,129.0 L142.2,130.0 L143.4,131.0 L144.6,132.0 L145.8,132.9 L147.0,133.9 L148.2,134.9 L149.4,135.9 L150.6,137.0 L151.8,138.0 L153.0,139.0 L154.1,140.1 L155.3,141.1 L156.4,142.2 L157.6,143.2 L158.7,144.3 L159.8,145.4 L160.9,146.5 L162.0,147.6 L163.1,148.7 L164.2,149.8 L165.3,151.0 L166.3,152.1 L167.4,153.2 L168.4,154.4 L169.5,155.6 L170.5,156.7 L171.5,157.9 L172.5,159.1 L173.5,160.3 L174.5,161.5 L175.4,162.7 L176.4,163.9 L177.3,165.2 L178.3,166.4 L179.2,167.7 L180.1,168.9 L181.0,170.2 L181.9,171.5 L182.7,172.7 L183.6,174.0 L184.4,175.3 L185.3,176.6 L186.1,178.0 L186.9,179.3 L187.7,180.6 L188.4,182.0 L189.2,183.3 L189.9,184.7 L190.7,186.1 L191.4,187.4 L192.1,188.8 L192.7,190.2 L193.4,191.6 L194.1,193.1 L194.7,194.5 L195.3,195.9 L195.9,197.4 L196.5,198.8 L197.1,200.3 L197.6,201.7 L240.0,240.0 L-10.0,240.0" fill="rgb(251,174,104)"/>
<path d="M24.1,157.2 L24.9,156.1 L25.7,155.1 L26.5,153.9 L27.2,152.8 L28.0,151.7 L28.8,150.5 L29.6,149.4 L30.4,148.3 L31.2,147.1 L32.0,145.9 L32.8,144.8 L33.6,143.7 L34.4,142.5 L35.3,141.4 L36.1,140.3 L37.0,139.2 L37.8,138.1 L38.7,137.0 L39.7,135.9 L40.6,134.9 L41.5,133.9 L42.5,132.9 L43.5,131.9 L44.5,131.0 L45.5,130.1 L46.6,129.2 L47.7,128.4 L48.8,127.6 L49.9,126.8 L51.0,126.1 L52.2,125.4 L53.3,124.7 L54.5,124.0 L55.7,123.4 L57.0,122.9 L58.2,122.4 L59.5,121.9 L60.8,121.4 L62.1,121.0 L63.4,120.7 L64.8,120.4 L66.1,120.1 L67.5,119.9 L68.9,119.7 L70.2,119.5 L71.6,119.4 L73.0,119.3 L74.5,119.3 L75.9,119.3 L77.3,119.3 L78.7,119.3 L80.1,119.4 L81.5,119.6 L82.9,119.7 L84.3,119.9 L85.7,120.1 L87.1,120.4 L88.5,120.6 L89.8,120.9 L91.2,121.3 L92.5,121.6 L93.8,122.0 L95.2,122.4 L96.5,122.8 L97.7,123.2 L99.0,123.7 L100.3,124.2 L101.6,124.7 L102.8,125.2 L104.1,125.8 L105.3,126.3 L106.5,126.9 L107.7,127.5 L109.0,128.1 L110.2,128.8 L111.4,129.4 L112.6,130.1 L113.7,130.8 L114.9,131.4 L116.1,132.1 L117.3,132.8 L118.4,133.6 L119.6,134.3 L120.8,135.0 L121.9,135.8 L123.1,136.5 L124.2,137.3 L125.4,138.0 L126.5,138.8 L127.7,139.6 L128.8,140.4 L129.9,141.2 L131.1,142.0 L132.2,142.8 L133.3,143.6 L134.4,144.4 L135.5,145.2 L136.6,146.1 L137.7,146.9 L138.8,147.8 L139.9,148.6 L141.0,149.5 L142.1,150.4 L143.1,151.3 L144.2,152.2 L145.3,153.1 L146.3,154.0 L147.4,154.9 L148.4,155.8 L149.4,156.7 L150.5,157.7 L151.5,158.6 L152.5,159.6 L153.5,160.5 L154.5,161.5 L155.5,162.4 L156.5,163.4 L157.4,164.4 L158.4,165.4 L159.4,166.4 L160.3,167.4 L161.2,168.4 L162.2,169.5 L163.1,170.5 L164.0,171.5 L164.9,172.6 L165.8,173.6 L166.7,174.7 L167.5,175.8 L168.4,176.9 L169.2,177.9 L170.1,179.0 L170.9,180.1 L171.7,181.3 L172.5,182.4 L173.3,183.5 L174.1,184.6 L174.9,185.8 L175.6,186.9 L176.4,188.1 L177.1,189.2 L177.8,190.4 L178.6,191.6 L179.3,192.8 L179.9,194.0 L180.6,195.2 L181.3,196.4 L181.9,197.6 L182.5,198.8 L183.2,200.1 L183.8,201.3 L184.4,202.6 L184.9,203.8 L185.5,205.1 L186.1,206.4 L186.6,207.7 L187.1,208.9 L187.6,210.2 L188.1,211.5 L240.0,240.0 L-10.0,240.0" fill="rgb(251,175,105)"/>
<path d="M32.9,170.5 L33.6,169.5 L34.3,168.5 L35.0,167.5 L35.7,166.5 L36.4,165.5 L37.1,164.5 L37.8,163.5 L38.5,162.4 L39.3,161.4 L40.0,160.4 L40.7,159.3 L41.4,158.3 L42.2,157.3 L42.9,156.2 L43.7,155.2 L44.5,154.2 L45.3,153.3 L46.1,152.3 L46.9,151.3 L47.7,150.4 L48.6,149.5 L49.4,148.6 L50.3,147.7 L51.2,146.9 L52.2,146.1 L53.1,145.3 L54.1,144.6 L55.1,143.8 L56.1,143.1 L57.1,142.5 L58.1,141.8 L59.2,141.2 L60.3,140.6 L61.4,140.1 L62.5,139.6 L63.6,139.1 L64.8,138.7 L65.9,138.3 L67.1,137.9 L68.3,137.6 L69.5,137.3 L70.7,137.1 L71.9,136.9 L73.2,136.7 L74.4,136.6 L75.7,136.5 L76.9,136.4 L78.2,136.3 L79.5,136.3 L80.8,136.4 L82.0,136.4 L83.3,136.5 L84.6,136.6 L85.8,136.7 L87.1,136.9 L88.3,137.1 L89.6,137.3 L90.8,137.6 L92.0,137.8 L93.3,138.1 L94.5,138.4 L95.7,138.8 L96.8,139.1 L98.0,139.5 L99.2,139.9 L100.3,140.3 L101.5,140.8 L102.6,141.2 L103.7,141.7 L104.9,142.2 L106.0,142.7 L107.1,143.2 L108.2,143.8 L109.3,144.3 L110.3,144.9 L111.4,145.5 L112.5,146.1 L113.6,146.7 L114.6,147.3 L115.7,147.9 L116.7,148.6 L117.8,149.2 L118.8,149.9 L119.9,150.5 L120.9,151.2 L122.0,151.9 L123.0,152.5 L124.0,153.2 L125.1,153.9 L126.1,154.6 L127.1,155.3 L128.1,156.0 L129.1,156.8 L130.2,157.5 L131.2,158.2 L132.2,159.0 L133.2,159.7 L134.2,160.5 L135.2,161.2 L136.1,162.0 L137.1,162.8 L138.1,163.6 L139.1,164.3 L140.0,165.1 L141.0,165.9 L141.9,166.8 L142.9,167.6 L143.8,168.4 L144.8,169.2 L145.7,170.1 L146.6,170.9 L147.5,171.7 L148.4,172.6 L149.4,173.5 L150.2,174.3 L151.1,175.2 L152.0,176.1 L152.9,177.0 L153.8,177.9 L154.6,178.8 L155.5,179.7 L156.3,180.6 L157.1,181.5 L158.0,182.5 L158.8,183.4 L159.6,184.3 L160.4,185.3 L161.2,186.2 L162.0,187.2 L162.8,188.2 L163.5,189.2 L164.3,190.1 L165.0,191.1 L165.7,192.1 L166.5,193.1 L167.2,194.1 L167.9,195.2 L168.6,196.2 L169.3,197.2 L169.9,198.3 L170.6,199.3 L171.3,200.4 L171.9,201.4 L172.5,202.5 L173.1,203.6 L173.7,204.7 L174.3,205.8 L174.9,206.9 L175.5,208.0 L176.1,209.1 L176.6,210.2 L177.1,211.3 L177.6,212.4 L178.2,213.6 L178.7,214.7 L179.1,215.9 L179.6,217.0 L180.1,218.2 L180.5,219.4 L240.0,240.0 L-10.0,240.0" fill="rgb(251,177,107)"/>
<path d="M41.7,183.8 L42.3,182.9 L42.9,182.0 L43.6,181.2 L44.2,180.3 L44.8,179.4 L45.4,178.4 L46.1,177.5 L46.7,176.6 L47.3,175.7 L48.0,174.8 L48.6,173.8 L49.3,172.9 L49.9,172.0 L50.6,171.1 L51.3,170.2 L52.0,169.3 L52.7,168.5 L53.4,167.6 L54.1,166.7 L54.9,165.9 L55.6,165.1 L56.4,164.3 L57.2,163.6 L58.0,162.8 L58.8,162.1 L59.7,161.4 L60.5,160.7 L61.4,160.1 L62.3,159.4 L63.2,158.9 L64.1,158.3 L65.1,157.7 L66.0,157.2 L67.0,156.8 L68.0,156.3 L69.0,155.9 L70.0,155.5 L71.0,155.2 L72.1,154.8 L73.1,154.5 L74.2,154.3 L75.3,154.1 L76.4,153.9 L77.5,153.7 L78.6,153.6 L79.7,153.5 L80.8,153.5 L82.0,153.4 L83.1,153.4 L84.2,153.4 L85.4,153.5 L86.5,153.6 L87.6,153.7 L88.7,153.8 L89.9,153.9 L91.0,154.1 L92.1,154.3 L93.2,154.5 L94.3,154.7 L95.3,155.0 L96.4,155.3 L97.5,155.6 L98.5,155.9 L99.6,156.2 L100.6,156.6 L101.6,157.0 L102.6,157.4 L103.6,157.8 L104.6,158.2 L105.6,158.6 L106.6,159.1 L107.6,159.5 L108.6,160.0 L109.6,160.5 L110.5,161.0 L111.5,161.5 L112.4,162.1 L113.4,162.6 L114.3,163.1 L115.3,163.7 L116.2,164.3 L117.2,164.8 L118.1,165.4 L119.0,166.0 L119.9,166.6 L120.9,167.2 L121.8,167.8 L122.7,168.4 L123.6,169.0 L124.5,169.7 L125.4,170.3 L126.3,170.9 L127.2,171.6 L128.1,172.2 L129.0,172.9 L129.9,173.5 L130.8,174.2 L131.7,174.9 L132.6,175.5 L133.5,176.2 L134.3,176.9 L135.2,177.6 L136.1,178.3 L136.9,179.0 L137.8,179.7 L138.6,180.4 L139.5,181.2 L140.3,181.9 L141.1,182.6 L142.0,183.4 L142.8,184.1 L143.6,184.9 L144.4,185.6 L145.2,186.4 L146.0,187.2 L146.8,188.0 L147.6,188.7 L148.3,189.5 L149.1,190.3 L149.9,191.1 L150.6,191.9 L151.4,192.8 L152.1,193.6 L152.9,194.4 L153.6,195.2 L154.3,196.1 L155.0,196.9 L155.7,197.8 L156.4,198.6 L157.1,199.5 L157.8,200.4 L158.5,201.2 L159.1,202.1 L159.8,203.0 L160.4,203.9 L161.1,204.8 L161.7,205.7 L162.3,206.6 L162.9,207.5 L163.5,208.5 L164.1,209.4 L164.7,210.3 L165.2,211.3 L165.8,212.2 L166.3,213.2 L166.9,214.1 L167.4,215.1 L167.9,216.1 L168.4,217.1 L168.9,218.1 L169.4,219.1 L169.9,220.1 L170.4,221.1 L170.8,222.1 L171.2,223.1 L171.7,224.1 L172.1,225.2 L172.5,226.2 L172.9,227.2 L240.0,240.0 L-10.0,240.0" fill="rgb(251,178,108)"/>
<path d="M50.5,197.1 L51.0,196.3 L51.6,195.5 L52.1,194.8 L52.7,194.0 L53.2,193.2 L53.8,192.4 L54.3,191.6 L54.9,190.8 L55.4,190.0 L56.0,189.2 L56.5,188.4 L57.1,187.6 L57.7,186.8 L58.3,186.0 L58.9,185.2 L59.5,184.4 L60.1,183.6 L60.7,182.9 L61.4,182.2 L62.0,181.4 L62.7,180.7 L63.3,180.0 L64.0,179.4 L64.7,178.7 L65.5,178.1 L66.2,177.5 L67.0,176.9 L67.7,176.3 L68.5,175.8 L69.3,175.2 L70.1,174.7 L70.9,174.3 L71.8,173.8 L72.6,173.4 L73.5,173.0 L74.4,172.7 L75.3,172.3 L76.2,172.0 L77.1,171.7 L78.0,171.5 L78.9,171.3 L79.9,171.1 L80.8,170.9 L81.8,170.8 L82.8,170.7 L83.8,170.6 L84.7,170.5 L85.7,170.5 L86.7,170.5 L87.7,170.5 L88.7,170.5 L89.7,170.6 L90.7,170.7 L91.6,170.8 L92.6,170.9 L93.6,171.1 L94.6,171.3 L95.5,171.4 L96.5,171.7 L97.4,171.9 L98.4,172.1 L99.3,172.4 L100.2,172.7 L101.1,173.0 L102.0,173.3 L102.9,173.6 L103.8,173.9 L104.7,174.3 L105.6,174.7 L106.4,175.0 L107.3,175.4 L108.2,175.9 L109.0,176.3 L109.9,176.7 L110.7,177.1 L111.6,177.6 L112.4,178.1 L113.2,178.5 L114.0,179.0 L114.9,179.5 L115.7,180.0 L116.5,180.5 L117.3,181.0 L118.1,181.5 L118.9,182.0 L119.8,182.6 L120.6,183.1 L121.4,183.6 L122.2,184.2 L123.0,184.7 L123.8,185.3 L124.5,185.8 L125.3,186.4 L126.1,186.9 L126.9,187.5 L127.7,188.1 L128.5,188.7 L129.2,189.3 L130.0,189.9 L130.8,190.4 L131.5,191.1 L132.3,191.7 L133.1,192.3 L133.8,192.9 L134.5,193.5 L135.3,194.1 L136.0,194.8 L136.8,195.4 L137.5,196.1 L138.2,196.7 L138.9,197.4 L139.6,198.0 L140.3,198.7 L141.1,199.4 L141.7,200.0 L142.4,200.7 L143.1,201.4 L143.8,202.1 L144.5,202.8 L145.1,203.5 L145.8,204.2 L146.5,204.9 L147.1,205.6 L147.8,206.4 L148.4,207.1 L149.0,207.8 L149.6,208.6 L150.3,209.3 L150.9,210.0 L151.5,210.8 L152.1,211.6 L152.7,212.3 L153.2,213.1 L153.8,213.9 L154.4,214.7 L154.9,215.4 L155.5,216.2 L156.0,217.0 L156.5,217.8 L157.1,218.7 L157.6,219.5 L158.1,220.3 L158.6,221.1 L159.1,221.9 L159.6,222.8 L160.0,223.6 L160.5,224.5 L160.9,225.3 L161.4,226.2 L161.8,227.1 L162.2,227.9 L162.7,228.8 L163.1,229.7 L163.5,230.6 L163.8,231.5 L164.2,232.4 L164.6,233.3 L164.9,234.2 L165.3,235.1 L240.0,240.0 L-10.0,240.0" fill="rgb(252,180,110)"/>
</g></g>
<path d="M2.1,124.0 L3.1,122.7 L4.1,121.3 L5.1,119.9 L6.0,118.5 L7.0,117.1 L8.0,115.7 L9.0,114.3 L10.0,112.8 L11.0,111.4 L12.0,109.9 L13.0,108.5 L14.0,107.1 L15.0,105.6 L16.1,104.2 L17.1,102.8 L18.2,101.4 L19.3,100.1 L20.4,98.7 L21.6,97.4 L22.7,96.1 L23.9,94.9 L25.1,93.6 L26.4,92.4 L27.6,91.3 L28.9,90.1 L30.2,89.0 L31.6,88.0 L32.9,87.0 L34.3,86.0 L35.8,85.1 L37.2,84.2 L38.7,83.4 L40.2,82.6 L41.7,81.8 L43.2,81.1 L44.8,80.5 L46.4,79.9 L48.0,79.3 L49.6,78.8 L51.3,78.4 L53.0,78.0 L54.6,77.6 L56.4,77.3 L58.1,77.1 L59.8,76.9 L61.6,76.7 L63.3,76.6 L65.1,76.6 L66.8,76.6 L68.6,76.6 L70.4,76.7 L72.1,76.8 L73.9,77.0 L75.7,77.2 L77.4,77.4 L79.1,77.7 L80.9,78.0 L82.6,78.3 L84.3,78.7 L86.0,79.1 L87.6,79.5 L89.3,80.0 L90.9,80.5 L92.6,81.0 L94.2,81.6 L95.8,82.1 L97.4,82.8 L98.9,83.4 L100.5,84.0 L102.1,84.7 L103.6,85.4 L105.2,86.2 L106.7,86.9 L108.2,87.7 L109.7,88.5 L111.2,89.3 L112.7,90.1 L114.2,90.9 L115.7,91.8 L117.1,92.7 L118.6,93.5 L120.1,94.4 L121.5,95.4 L123.0,96.3 L124.4,97.2 L125.8,98.1 L127.3,99.1 L128.7,100.0 L130.1,101.0 L131.6,102.0 L133.0,103.0 L134.4,104.0 L135.8,105.0 L137.2,106.0 L138.6,107.0 L140.0,108.0 L141.4,109.1 L142.8,110.1 L144.2,111.2 L145.5,112.2 L146.9,113.3 L148.2,114.4 L149.6,115.5 L150.9,116.6 L152.3,117.7 L153.6,118.8 L154.9,120.0 L156.2,121.1 L157.5,122.2 L158.8,123.4 L160.1,124.6 L161.4,125.8 L162.6,126.9 L163.9,128.1 L165.1,129.3 L166.4,130.6 L167.6,131.8 L168.8,133.0 L170.0,134.3 L171.2,135.5 L172.4,136.8 L173.5,138.1 L174.7,139.3 L175.9,140.6 L177.0,141.9 L178.1,143.2 L179.2,144.6 L180.3,145.9 L181.4,147.2 L182.5,148.6 L183.5,149.9 L184.6,151.3 L185.6,152.7 L186.7,154.1 L187.7,155.5 L188.7,156.9 L189.6,158.3 L190.6,159.7 L191.5,161.2 L192.5,162.6 L193.4,164.1 L194.3,165.5 L195.2,167.0 L196.1,168.5 L196.9,170.0 L197.8,171.5 L198.6,173.0 L199.4,174.5 L200.2,176.1 L201.0,177.6 L201.7,179.1 L202.5,180.7 L203.2,182.3 L203.9,183.9 L204.6,185.5 L205.2,187.1 L205.9,188.7 L206.5,190.3 L207.1,191.9" fill="none" stroke="#1a0f05" stroke-width="0.85" stroke-opacity="0.9"/>
<path d="M14.8,33.5 L18.2,32.6 L21.6,32.0 L25.0,31.4 L28.4,31.0 L31.8,30.8 L35.2,30.6 L38.5,30.6 L41.8,30.8 L45.2,31.0 L48.5,31.4 L51.8,31.8 L55.0,32.4 L58.3,33.1 L61.5,33.8 L64.7,34.7 L67.9,35.6 L71.1,36.7 L74.2,37.8 L77.4,39.0 L80.5,40.2 L83.6,41.6 L86.6,43.0 L89.7,44.4 L92.7,46.0 L95.7,47.6 L98.7,49.2 L101.6,50.9 L104.6,52.7 L107.5,54.5 L110.4,56.4 L113.2,58.3 L116.0,60.2 L118.9,62.2 L121.6,64.2 L124.4,66.3 L127.1,68.3 L129.9,70.4 L132.5,72.6 L135.2,74.7 L137.8,76.9 L140.4,79.1 L143.0,81.3 L145.6,83.5 L148.1,85.8 L150.6,88.1 L153.1,90.4 L155.6,92.7 L158.0,95.0 L160.4,97.4 L162.8,99.8 L165.2,102.2 L167.5,104.6 L169.8,107.1 L172.1,109.6 L174.4,112.0 L176.6,114.6 L178.8,117.1 L181.0,119.6 L183.2,122.2 L185.4,124.8 L187.5,127.4 L189.6,130.1 L191.7,132.7 L193.8,135.4 L195.8,138.1 L197.8,140.8 L199.8,143.6 L201.8,146.3 L203.8,149.1" fill="none" stroke="#fff" stroke-width="0.75" stroke-opacity="0.95"/>
<path d="M77.8,2.2 L79.9,3.6 L82.0,5.0 L84.1,6.4 L86.2,7.8 L88.3,9.2 L90.4,10.7 L92.4,12.1 L94.5,13.5 L96.6,15.0 L98.6,16.4 L100.7,17.9 L102.7,19.3 L104.8,20.8 L106.8,22.3 L108.8,23.8 L110.8,25.3 L112.8,26.8 L114.8,28.3 L116.8,29.9 L118.8,31.4 L120.8,33.0 L122.7,34.5 L124.7,36.1 L126.6,37.7 L128.6,39.3 L130.5,40.9 L132.4,42.5 L134.3,44.1 L136.2,45.7 L138.1,47.4 L140.0,49.0 L141.9,50.7 L143.7,52.4 L145.6,54.0 L147.4,55.7 L149.3,57.4 L151.1,59.2 L152.9,60.9 L154.7,62.6 L156.5,64.4 L158.2,66.2 L160.0,67.9 L161.8,69.7 L163.5,71.5 L165.2,73.3 L166.9,75.1 L168.7,77.0 L170.3,78.8 L172.0,80.7 L173.7,82.5 L175.4,84.4 L177.0,86.3 L178.7,88.2 L180.3,90.1 L181.9,92.0 L183.5,94.0 L185.1,95.9 L186.7,97.9 L188.3,99.8 L189.9,101.8 L191.4,103.8 L193.0,105.8 L194.5,107.8 L196.0,109.8 L197.5,111.8 L199.0,113.8 L200.5,115.9 L202.0,117.9 L203.5,120.0" fill="none" stroke="#fff" stroke-width="0.75" stroke-opacity="0.95"/>
<path d="M120.1,0.9 L121.5,2.0 L122.8,3.2 L124.2,4.4 L125.5,5.6 L126.9,6.8 L128.2,8.0 L129.5,9.2 L130.8,10.4 L132.1,11.6 L133.4,12.8 L134.7,14.0 L136.0,15.2 L137.3,16.5 L138.6,17.7 L139.9,18.9 L141.2,20.2 L142.5,21.4 L143.7,22.7 L145.0,23.9 L146.3,25.2 L147.5,26.5 L148.8,27.7 L150.0,29.0 L151.3,30.3 L152.5,31.6 L153.8,32.9 L155.0,34.1 L156.2,35.4 L157.5,36.7 L158.7,38.0 L159.9,39.3 L161.1,40.7 L162.3,42.0 L163.5,43.3 L164.7,44.6 L165.9,45.9 L167.1,47.2 L168.3,48.6 L169.5,49.9 L170.7,51.2 L171.9,52.6 L173.1,53.9 L174.3,55.3 L175.4,56.6 L176.6,58.0 L177.8,59.3 L178.9,60.7 L180.1,62.0 L181.3,63.4 L182.4,64.7 L183.6,66.1 L184.7,67.5 L185.9,68.8 L187.0,70.2 L188.2,71.6 L189.3,73.0 L190.5,74.3 L191.6,75.7 L192.8,77.1 L193.9,78.5 L195.0,79.9 L196.2,81.2 L197.3,82.6 L198.4,84.0 L199.6,85.4 L200.7,86.8 L201.8,88.2 L202.9,89.6 L204.0,91.0" fill="none" stroke="#fff" stroke-width="0.75" stroke-opacity="0.95"/>
<path d="M152.5,1.0 L153.2,1.9 L153.9,2.8 L154.7,3.7 L155.4,4.6 L156.1,5.5 L156.9,6.4 L157.6,7.2 L158.3,8.1 L159.1,9.0 L159.8,9.9 L160.6,10.8 L161.3,11.6 L162.1,12.5 L162.8,13.4 L163.6,14.3 L164.3,15.1 L165.1,16.0 L165.8,16.9 L166.6,17.7 L167.3,18.6 L168.1,19.5 L168.8,20.4 L169.6,21.2 L170.3,22.1 L171.1,23.0 L171.9,23.8 L172.6,24.7 L173.4,25.6 L174.1,26.4 L174.9,27.3 L175.7,28.2 L176.4,29.0 L177.2,29.9 L177.9,30.7 L178.7,31.6 L179.5,32.5 L180.2,33.3 L181.0,34.2 L181.7,35.1 L182.5,35.9 L183.3,36.8 L184.0,37.7 L184.8,38.6 L185.5,39.4 L186.3,40.3 L187.0,41.2 L187.8,42.0 L188.5,42.9 L189.3,43.8 L190.0,44.7 L190.8,45.5 L191.5,46.4 L192.3,47.3 L193.0,48.2 L193.8,49.0 L194.5,49.9 L195.2,50.8 L196.0,51.7 L196.7,52.6 L197.4,53.5 L198.2,54.4 L198.9,55.2 L199.6,56.1 L200.4,57.0 L201.1,57.9 L201.8,58.8 L202.5,59.7 L203.2,60.6 L204.0,61.5" fill="none" stroke="#fff" stroke-width="0.75" stroke-opacity="0.95"/>
<path d="M177.9,0.5 L178.3,1.1 L178.7,1.6 L179.1,2.1 L179.5,2.7 L179.9,3.2 L180.3,3.7 L180.7,4.2 L181.1,4.8 L181.5,5.3 L181.8,5.8 L182.2,6.3 L182.6,6.9 L183.0,7.4 L183.4,7.9 L183.8,8.4 L184.2,8.9 L184.6,9.5 L185.0,10.0 L185.4,10.5 L185.8,11.0 L186.2,11.5 L186.7,12.1 L187.1,12.6 L187.5,13.1 L187.8,13.6 L188.2,14.1 L188.6,14.6 L189.0,15.2 L189.4,15.7 L189.8,16.2 L190.2,16.7 L190.6,17.3 L191.0,17.8 L191.4,18.3 L191.8,18.8 L192.2,19.4 L192.5,19.9 L192.9,20.4 L193.3,21.0 L193.7,21.5 L194.0,22.0 L194.4,22.6 L194.8,23.1 L195.1,23.6 L195.5,24.2 L195.9,24.7 L196.2,25.3 L196.6,25.8 L196.9,26.4 L197.3,26.9 L197.6,27.5 L197.9,28.1 L198.3,28.6 L198.6,29.2 L198.9,29.8 L199.2,30.3 L199.5,30.9 L199.9,31.5 L200.2,32.1 L200.5,32.6 L200.8,33.2 L201.0,33.8 L201.3,34.4 L201.6,35.0 L201.9,35.6 L202.1,36.2 L202.4,36.8 L202.7,37.4 L202.9,38.1" fill="none" stroke="#fff" stroke-width="0.75" stroke-opacity="0.95"/>
<path d="M27.5,167.5 L29.1,164.8 L30.7,162.1 L32.4,159.3 L34.1,156.5 L36.0,153.8 L38.0,151.0 L40.0,148.3 L42.1,145.7 L44.3,143.1 L46.6,140.6 L49.0,138.2 L51.5,136.0 L54.0,133.8 L56.7,131.9 L59.4,130.0 L62.2,128.4 L65.1,127.0 L68.1,125.7 L71.2,124.6 L74.3,123.8 L77.5,123.1 L80.7,122.5 L83.9,122.1 L87.2,121.9 L90.5,121.9 L93.7,121.9 L97.0,122.2 L100.3,122.5 L103.5,123.0 L106.7,123.6 L109.8,124.4 L113.0,125.2 L116.1,126.2 L119.1,127.3 L122.1,128.5 L125.1,129.7 L128.0,131.1 L131.0,132.6 L133.8,134.2 L136.7,135.9 L139.4,137.6 L142.2,139.4 L144.9,141.3 L147.6,143.3 L150.2,145.4 L152.8,147.5 L155.4,149.6 L157.9,151.9 L160.4,154.2 L162.8,156.5 L165.2,158.9 L167.6,161.3 L169.9,163.8 L172.1,166.3 L174.4,168.8 L176.5,171.4 L178.7,173.9 L180.8,176.5 L182.8,179.2 L184.8,181.8 L186.8,184.4 L188.7,187.1 L190.6,189.7 L192.4,192.4 L194.2,195.0 L195.9,197.7 L197.6,200.3 L199.2,202.9 L200.8,205.5" fill="none" stroke="#fff" stroke-width="0.75" stroke-opacity="0.95"/>
<path d="M40.4,208.7 L41.0,205.9 L41.7,203.2 L42.5,200.5 L43.5,197.9 L44.5,195.4 L45.6,192.9 L46.9,190.4 L48.2,188.1 L49.6,185.8 L51.1,183.6 L52.7,181.4 L54.4,179.3 L56.1,177.3 L57.9,175.4 L59.8,173.5 L61.8,171.8 L63.8,170.1 L65.9,168.5 L68.0,167.0 L70.2,165.5 L72.5,164.2 L74.8,162.9 L77.1,161.8 L79.5,160.7 L81.9,159.7 L84.3,158.9 L86.8,158.1 L89.3,157.4 L91.8,156.9 L94.3,156.4 L96.8,156.1 L99.4,155.8 L102.0,155.7 L104.5,155.7 L107.1,155.8 L109.7,156.0 L112.2,156.3 L114.8,156.8 L117.3,157.3 L119.9,157.9 L122.4,158.6 L124.9,159.4 L127.4,160.3 L129.9,161.3 L132.3,162.4 L134.7,163.5 L137.1,164.7 L139.5,166.0 L141.8,167.4 L144.2,168.8 L146.4,170.3 L148.7,171.9 L150.8,173.5 L153.0,175.2 L155.1,176.9 L157.2,178.7 L159.2,180.5 L161.1,182.4 L163.0,184.3 L164.9,186.3 L166.6,188.3 L168.4,190.3 L170.0,192.3 L171.6,194.4 L173.2,196.6 L174.6,198.7 L176.0,200.8 L177.3,203.0 L178.5,205.2" fill="none" stroke="#fff" stroke-width="0.75" stroke-opacity="0.95"/>
<path d="M69.5,206.0 L70.5,205.1 L71.5,204.2 L72.5,203.3 L73.5,202.3 L74.5,201.4 L75.5,200.4 L76.6,199.4 L77.6,198.4 L78.6,197.5 L79.7,196.5 L80.8,195.6 L81.8,194.7 L82.9,193.8 L84.0,192.9 L85.2,192.1 L86.3,191.3 L87.5,190.5 L88.7,189.8 L89.9,189.2 L91.1,188.6 L92.3,188.0 L93.6,187.5 L94.9,187.0 L96.2,186.6 L97.5,186.2 L98.8,185.9 L100.1,185.6 L101.5,185.3 L102.8,185.1 L104.2,185.0 L105.5,184.8 L106.9,184.8 L108.3,184.7 L109.7,184.7 L111.1,184.7 L112.5,184.8 L113.9,184.9 L115.3,185.1 L116.7,185.2 L118.1,185.5 L119.5,185.7 L120.9,186.0 L122.3,186.3 L123.7,186.6 L125.1,187.0 L126.5,187.4 L127.8,187.8 L129.2,188.2 L130.5,188.7 L131.8,189.2 L133.1,189.7 L134.4,190.2 L135.6,190.8 L136.8,191.4 L138.0,192.0 L139.2,192.7 L140.3,193.5 L141.4,194.2 L142.5,195.1 L143.5,195.9 L144.5,196.9 L145.4,197.8 L146.3,198.9 L147.2,199.9 L148.0,201.1 L148.8,202.2 L149.6,203.5 L150.3,204.8 L150.9,206.1" fill="none" stroke="#fff" stroke-width="0.75" stroke-opacity="0.95"/>
<path d="M68.5,142.2 L67.1,143.2 L65.8,144.1 L64.4,145.1 L63.1,146.0 L61.7,147.0 L60.3,147.9 L59.0,148.9 L57.6,149.8 L56.3,150.8 L54.9,151.7 L53.5,152.7 L52.2,153.6 L50.8,154.6 L49.5,155.5 L48.1,156.5 L46.7,157.4 L45.4,158.4 L44.0,159.4 L42.7,160.3 L41.3,161.3 L40.0,162.2 L38.6,163.2 L37.3,164.1 L35.9,165.1 L34.6,166.1 L33.2,167.0 L31.9,168.0 L30.6,169.0 L29.2,170.0" fill="none" stroke="#fdfdfd" stroke-width="0.7" stroke-opacity="0.95"/>
<path d="M67.4,140.7 L66.0,141.6 L64.7,142.6 L63.3,143.6 L62.0,144.6 L60.6,145.5 L59.3,146.5 L58.0,147.5 L56.6,148.5 L55.3,149.4 L53.9,150.4 L52.6,151.4 L51.2,152.3 L49.9,153.3 L48.5,154.3 L47.2,155.2 L45.9,156.2 L44.5,157.2 L43.2,158.2 L41.8,159.1 L40.5,160.1 L39.2,161.1 L37.8,162.1 L36.5,163.1 L35.1,164.0 L33.8,165.0 L32.5,166.0 L31.2,167.0 L29.8,168.0 L28.5,169.0" fill="none" stroke="#fdfdfd" stroke-width="0.7" stroke-opacity="0.95"/>
<path d="M66.2,139.1 L64.9,140.1 L63.6,141.1 L62.2,142.1 L60.9,143.1 L59.6,144.1 L58.3,145.1 L56.9,146.0 L55.6,147.0 L54.3,148.0 L52.9,149.0 L51.6,150.0 L50.2,151.0 L48.9,151.9 L47.6,152.9 L46.2,153.9 L44.9,154.9 L43.6,155.9 L42.2,156.9 L40.9,157.9 L39.6,158.9 L38.2,159.9 L36.9,160.8 L35.6,161.8 L34.3,162.8 L32.9,163.8 L31.6,164.9 L30.3,165.9 L29.0,166.9 L27.7,167.9" fill="none" stroke="#fdfdfd" stroke-width="0.7" stroke-opacity="0.95"/>
<path d="M159.6,66.2 L156.8,68.7" fill="none" stroke="rgb(20,41,200)" stroke-width="4.99" stroke-opacity="1.00"/>
<path d="M157.1,68.4 L154.3,70.9" fill="none" stroke="rgb(22,45,202)" stroke-width="4.96" stroke-opacity="1.00"/>
<path d="M154.6,70.7 L151.8,73.1" fill="none" stroke="rgb(24,48,204)" stroke-width="4.94" stroke-opacity="1.00"/>
<path d="M152.1,72.9 L149.3,75.3" fill="none" stroke="rgb(25,51,205)" stroke-width="4.91" stroke-opacity="1.00"/>
<path d="M149.6,75.1 L146.7,77.5" fill="none" stroke="rgb(27,55,207)" stroke-width="4.89" stroke-opacity="1.00"/>
<path d="M147.0,77.3 L144.2,79.7" fill="none" stroke="rgb(29,58,209)" stroke-width="4.86" stroke-opacity="1.00"/>
<path d="M144.5,79.5 L141.7,81.9" fill="none" stroke="rgb(30,61,210)" stroke-width="4.84" stroke-opacity="1.00"/>
<path d="M142.0,81.6 L139.1,84.1" fill="none" stroke="rgb(32,65,212)" stroke-width="4.81" stroke-opacity="1.00"/>
<path d="M139.4,83.8 L136.5,86.2" fill="none" stroke="rgb(34,68,214)" stroke-width="4.79" stroke-opacity="1.00"/>
<path d="M136.9,86.0 L134.0,88.4" fill="none" stroke="rgb(42,75,215)" stroke-width="4.77" stroke-opacity="1.00"/>
<path d="M134.3,88.1 L131.4,90.5" fill="none" stroke="rgb(58,87,217)" stroke-width="4.74" stroke-opacity="1.00"/>
<path d="M131.7,90.3 L128.8,92.7" fill="none" stroke="rgb(74,99,218)" stroke-width="4.72" stroke-opacity="1.00"/>
<path d="M129.1,92.4 L126.3,94.8" fill="none" stroke="rgb(90,111,219)" stroke-width="4.69" stroke-opacity="1.00"/>
<path d="M126.6,94.6 L123.7,96.9" fill="none" stroke="rgb(106,123,221)" stroke-width="4.67" stroke-opacity="0.98"/>
<path d="M124.0,96.7 L121.1,99.1" fill="none" stroke="rgb(122,134,222)" stroke-width="4.64" stroke-opacity="0.97"/>
<path d="M121.4,98.8 L118.5,101.2" fill="none" stroke="rgb(138,146,224)" stroke-width="4.62" stroke-opacity="0.95"/>
<path d="M118.8,100.9 L115.9,103.3" fill="none" stroke="rgb(150,155,224)" stroke-width="4.57" stroke-opacity="0.93"/>
<path d="M116.2,103.0 L113.3,105.4" fill="none" stroke="rgb(152,157,224)" stroke-width="4.46" stroke-opacity="0.92"/>
<path d="M113.6,105.1 L110.6,107.5" fill="none" stroke="rgb(153,158,224)" stroke-width="4.34" stroke-opacity="0.90"/>
<path d="M110.9,107.2 L108.0,109.6" fill="none" stroke="rgb(155,160,223)" stroke-width="4.23" stroke-opacity="0.88"/>
<path d="M108.3,109.3 L105.4,111.6" fill="none" stroke="rgb(157,162,223)" stroke-width="4.12" stroke-opacity="0.86"/>
<path d="M105.7,111.4 L102.8,113.7" fill="none" stroke="rgb(158,163,223)" stroke-width="4.01" stroke-opacity="0.85"/>
<path d="M103.1,113.5 L100.1,115.8" fill="none" stroke="rgb(160,165,222)" stroke-width="3.90" stroke-opacity="0.83"/>
<path d="M100.4,115.5 L97.5,117.8" fill="none" stroke="rgb(162,167,222)" stroke-width="3.79" stroke-opacity="0.81"/>
<path d="M97.8,117.6 L94.8,119.9" fill="none" stroke="rgb(163,168,222)" stroke-width="3.68" stroke-opacity="0.80"/>
<path d="M95.1,119.6 L92.2,121.9" fill="none" stroke="rgb(164,169,222)" stroke-width="3.58" stroke-opacity="0.78"/>
<path d="M92.5,121.7 L89.5,124.0" fill="none" stroke="rgb(163,169,222)" stroke-width="3.53" stroke-opacity="0.76"/>
<path d="M89.8,123.7 L86.9,126.0" fill="none" stroke="rgb(161,168,222)" stroke-width="3.47" stroke-opacity="0.75"/>
<path d="M87.2,125.8 L84.2,128.0" fill="none" stroke="rgb(160,168,222)" stroke-width="3.42" stroke-opacity="0.73"/>
<path d="M84.5,127.8 L81.5,130.1" fill="none" stroke="rgb(159,168,222)" stroke-width="3.36" stroke-opacity="0.71"/>
<path d="M81.9,129.8 L78.9,132.1" fill="none" stroke="rgb(157,167,222)" stroke-width="3.31" stroke-opacity="0.69"/>
<path d="M79.2,131.9 L76.2,134.1" fill="none" stroke="rgb(156,167,222)" stroke-width="3.25" stroke-opacity="0.68"/>
<path d="M76.5,133.9 L73.5,136.1" fill="none" stroke="rgb(154,166,222)" stroke-width="3.19" stroke-opacity="0.66"/>
<path d="M73.8,135.9 L70.8,138.1" fill="none" stroke="rgb(153,166,222)" stroke-width="3.14" stroke-opacity="0.64"/>
<path d="M71.1,137.9 L68.1,140.1" fill="none" stroke="rgb(152,165,222)" stroke-width="3.08" stroke-opacity="0.63"/>
<path d="M68.4,139.9 L65.7,141.8" fill="none" stroke="rgb(150,165,222)" stroke-width="3.03" stroke-opacity="0.61"/>
<path d="M159.6,66.2 L156.8,68.7" fill="none" stroke="rgb(40,112,235)" stroke-width="3.59" stroke-opacity="1.00"/>
<path d="M157.1,68.4 L154.3,70.9" fill="none" stroke="rgb(41,116,235)" stroke-width="3.57" stroke-opacity="1.00"/>
<path d="M154.6,70.7 L151.8,73.1" fill="none" stroke="rgb(42,121,235)" stroke-width="3.55" stroke-opacity="1.00"/>
<path d="M152.1,72.9 L149.3,75.3" fill="none" stroke="rgb(43,125,235)" stroke-width="3.54" stroke-opacity="1.00"/>
<path d="M149.6,75.1 L146.7,77.5" fill="none" stroke="rgb(45,130,235)" stroke-width="3.52" stroke-opacity="1.00"/>
<path d="M147.0,77.3 L144.2,79.7" fill="none" stroke="rgb(46,134,235)" stroke-width="3.50" stroke-opacity="1.00"/>
<path d="M144.5,79.5 L141.7,81.9" fill="none" stroke="rgb(47,138,235)" stroke-width="3.48" stroke-opacity="1.00"/>
<path d="M142.0,81.6 L139.1,84.1" fill="none" stroke="rgb(48,143,235)" stroke-width="3.46" stroke-opacity="1.00"/>
<path d="M139.4,83.8 L136.5,86.2" fill="none" stroke="rgb(49,147,235)" stroke-width="3.44" stroke-opacity="1.00"/>
<path d="M136.9,86.0 L134.0,88.4" fill="none" stroke="rgb(52,153,234)" stroke-width="3.42" stroke-opacity="1.00"/>
<path d="M134.3,88.1 L131.4,90.5" fill="none" stroke="rgb(56,159,232)" stroke-width="3.41" stroke-opacity="1.00"/>
<path d="M131.7,90.3 L128.8,92.7" fill="none" stroke="rgb(60,165,231)" stroke-width="3.39" stroke-opacity="1.00"/>
<path d="M129.1,92.4 L126.3,94.8" fill="none" stroke="rgb(64,171,230)" stroke-width="3.37" stroke-opacity="1.00"/>
<path d="M126.6,94.6 L123.7,96.9" fill="none" stroke="rgb(68,178,228)" stroke-width="3.35" stroke-opacity="0.98"/>
<path d="M124.0,96.7 L121.1,99.1" fill="none" stroke="rgb(72,184,227)" stroke-width="3.33" stroke-opacity="0.97"/>
<path d="M121.4,98.8 L118.5,101.2" fill="none" stroke="rgb(77,190,225)" stroke-width="3.31" stroke-opacity="0.95"/>
<path d="M118.8,100.9 L115.9,103.3" fill="none" stroke="rgb(80,195,223)" stroke-width="3.28" stroke-opacity="0.93"/>
<path d="M116.2,103.0 L113.3,105.4" fill="none" stroke="rgb(82,196,219)" stroke-width="3.20" stroke-opacity="0.92"/>
<path d="M113.6,105.1 L110.6,107.5" fill="none" stroke="rgb(85,197,214)" stroke-width="3.12" stroke-opacity="0.90"/>
<path d="M110.9,107.2 L108.0,109.6" fill="none" stroke="rgb(87,198,210)" stroke-width="3.04" stroke-opacity="0.88"/>
<path d="M108.3,109.3 L105.4,111.6" fill="none" stroke="rgb(89,199,205)" stroke-width="2.97" stroke-opacity="0.86"/>
<path d="M105.7,111.4 L102.8,113.7" fill="none" stroke="rgb(91,200,201)" stroke-width="2.89" stroke-opacity="0.85"/>
<path d="M103.1,113.5 L100.1,115.8" fill="none" stroke="rgb(94,202,197)" stroke-width="2.81" stroke-opacity="0.83"/>
<path d="M100.4,115.5 L97.5,117.8" fill="none" stroke="rgb(96,203,192)" stroke-width="2.73" stroke-opacity="0.81"/>
<path d="M97.8,117.6 L94.8,119.9" fill="none" stroke="rgb(98,204,188)" stroke-width="2.65" stroke-opacity="0.80"/>
<path d="M95.1,119.6 L92.2,121.9" fill="none" stroke="rgb(100,205,185)" stroke-width="2.59" stroke-opacity="0.78"/>
<path d="M92.5,121.7 L89.5,124.0" fill="none" stroke="rgb(100,205,185)" stroke-width="2.54" stroke-opacity="0.76"/>
<path d="M89.8,123.7 L86.9,126.0" fill="none" stroke="rgb(100,206,186)" stroke-width="2.49" stroke-opacity="0.75"/>
<path d="M87.2,125.8 L84.2,128.0" fill="none" stroke="rgb(100,206,186)" stroke-width="2.45" stroke-opacity="0.73"/>
<path d="M84.5,127.8 L81.5,130.1" fill="none" stroke="rgb(100,206,186)" stroke-width="2.40" stroke-opacity="0.71"/>
<path d="M81.9,129.8 L78.9,132.1" fill="none" stroke="rgb(100,207,187)" stroke-width="2.35" stroke-opacity="0.69"/>
<path d="M79.2,131.9 L76.2,134.1" fill="none" stroke="rgb(100,207,187)" stroke-width="2.31" stroke-opacity="0.68"/>
<path d="M76.5,133.9 L73.5,136.1" fill="none" stroke="rgb(100,208,188)" stroke-width="2.26" stroke-opacity="0.66"/>
<path d="M73.8,135.9 L70.8,138.1" fill="none" stroke="rgb(100,208,188)" stroke-width="2.22" stroke-opacity="0.64"/>
<path d="M71.1,137.9 L68.1,140.1" fill="none" stroke="rgb(100,209,189)" stroke-width="2.17" stroke-opacity="0.63"/>
<path d="M68.4,139.9 L65.7,141.8" fill="none" stroke="rgb(100,209,189)" stroke-width="2.12" stroke-opacity="0.61"/>
<path d="M159.6,66.2 L156.8,68.7" fill="none" stroke="rgb(118,210,249)" stroke-width="2.69" stroke-opacity="1.00"/>
<path d="M157.1,68.4 L154.3,70.9" fill="none" stroke="rgb(116,211,247)" stroke-width="2.66" stroke-opacity="1.00"/>
<path d="M154.6,70.7 L151.8,73.1" fill="none" stroke="rgb(114,212,245)" stroke-width="2.64" stroke-opacity="1.00"/>
<path d="M152.1,72.9 L149.3,75.3" fill="none" stroke="rgb(112,213,244)" stroke-width="2.61" stroke-opacity="1.00"/>
<path d="M149.6,75.1 L146.7,77.5" fill="none" stroke="rgb(110,215,242)" stroke-width="2.59" stroke-opacity="1.00"/>
<path d="M147.0,77.3 L144.2,79.7" fill="none" stroke="rgb(107,216,240)" stroke-width="2.56" stroke-opacity="1.00"/>
<path d="M144.5,79.5 L141.7,81.9" fill="none" stroke="rgb(105,217,239)" stroke-width="2.54" stroke-opacity="1.00"/>
<path d="M142.0,81.6 L139.1,84.1" fill="none" stroke="rgb(103,218,237)" stroke-width="2.51" stroke-opacity="1.00"/>
<path d="M139.4,83.8 L136.5,86.2" fill="none" stroke="rgb(101,219,235)" stroke-width="2.49" stroke-opacity="1.00"/>
<path d="M136.9,86.0 L134.0,88.4" fill="none" stroke="rgb(102,220,227)" stroke-width="2.47" stroke-opacity="1.00"/>
<path d="M134.3,88.1 L131.4,90.5" fill="none" stroke="rgb(106,220,213)" stroke-width="2.44" stroke-opacity="1.00"/>
<path d="M131.7,90.3 L128.8,92.7" fill="none" stroke="rgb(110,220,198)" stroke-width="2.42" stroke-opacity="1.00"/>
<path d="M129.1,92.4 L126.3,94.8" fill="none" stroke="rgb(114,220,183)" stroke-width="2.39" stroke-opacity="1.00"/>
<path d="M126.6,94.6 L123.7,96.9" fill="none" stroke="rgb(118,220,169)" stroke-width="2.37" stroke-opacity="1.00"/>
<path d="M124.0,96.7 L121.1,99.1" fill="none" stroke="rgb(122,220,154)" stroke-width="2.34" stroke-opacity="1.00"/>
<path d="M121.4,98.8 L118.5,101.2" fill="none" stroke="rgb(127,220,140)" stroke-width="2.32" stroke-opacity="1.00"/>
<path d="M118.8,100.9 L115.9,103.3" fill="none" stroke="rgb(132,220,128)" stroke-width="2.28" stroke-opacity="1.00"/>
<path d="M116.2,103.0 L113.3,105.4" fill="none" stroke="rgb(140,220,121)" stroke-width="2.21" stroke-opacity="1.00"/>
<path d="M113.6,105.1 L110.6,107.5" fill="none" stroke="rgb(147,220,114)" stroke-width="2.15" stroke-opacity="1.00"/>
<path d="M110.9,107.2 L108.0,109.6" fill="none" stroke="rgb(155,220,108)" stroke-width="2.08" stroke-opacity="1.00"/>
<path d="M108.3,109.3 L105.4,111.6" fill="none" stroke="rgb(163,220,101)" stroke-width="2.01" stroke-opacity="1.00"/>
<path d="M105.7,111.4 L102.8,113.7" fill="none" stroke="rgb(171,220,94)" stroke-width="1.95" stroke-opacity="1.00"/>
<path d="M103.1,113.5 L100.1,115.8" fill="none" stroke="rgb(179,220,88)" stroke-width="1.88" stroke-opacity="1.00"/>
<path d="M100.4,115.5 L97.5,117.8" fill="none" stroke="rgb(186,220,81)" stroke-width="1.81" stroke-opacity="1.00"/>
<path d="M97.8,117.6 L94.8,119.9" fill="none" stroke="rgb(194,220,74)" stroke-width="1.75" stroke-opacity="1.00"/>
<path d="M95.1,119.6 L92.2,121.9" fill="none" stroke="rgb(200,220,70)" stroke-width="1.69" stroke-opacity="1.00"/>
<path d="M92.5,121.7 L89.5,124.0" fill="none" stroke="rgb(200,220,71)" stroke-width="1.65" stroke-opacity="1.00"/>
<path d="M89.8,123.7 L86.9,126.0" fill="none" stroke="rgb(201,221,72)" stroke-width="1.61" stroke-opacity="1.00"/>
<path d="M87.2,125.8 L84.2,128.0" fill="none" stroke="rgb(201,221,73)" stroke-width="1.58" stroke-opacity="1.00"/>
<path d="M84.5,127.8 L81.5,130.1" fill="none" stroke="rgb(201,221,73)" stroke-width="1.54" stroke-opacity="1.00"/>
<path d="M81.9,129.8 L78.9,132.1" fill="none" stroke="rgb(202,222,74)" stroke-width="1.50" stroke-opacity="1.00"/>
<path d="M79.2,131.9 L76.2,134.1" fill="none" stroke="rgb(202,222,75)" stroke-width="1.47" stroke-opacity="1.00"/>
<path d="M76.5,133.9 L73.5,136.1" fill="none" stroke="rgb(203,223,76)" stroke-width="1.43" stroke-opacity="1.00"/>
<path d="M73.8,135.9 L70.8,138.1" fill="none" stroke="rgb(203,223,77)" stroke-width="1.39" stroke-opacity="1.00"/>
<path d="M71.1,137.9 L68.1,140.1" fill="none" stroke="rgb(204,224,78)" stroke-width="1.36" stroke-opacity="1.00"/>
<path d="M68.4,139.9 L65.7,141.8" fill="none" stroke="rgb(204,224,79)" stroke-width="1.32" stroke-opacity="1.00"/>
<path d="M159.6,66.2 L156.8,68.7" fill="none" stroke="rgb(222,246,253)" stroke-width="1.39" stroke-opacity="1.00"/>
<path d="M157.1,68.4 L154.3,70.9" fill="none" stroke="rgb(216,244,249)" stroke-width="1.37" stroke-opacity="1.00"/>
<path d="M154.6,70.7 L151.8,73.1" fill="none" stroke="rgb(210,242,246)" stroke-width="1.35" stroke-opacity="1.00"/>
<path d="M152.1,72.9 L149.3,75.3" fill="none" stroke="rgb(204,241,242)" stroke-width="1.34" stroke-opacity="1.00"/>
<path d="M149.6,75.1 L146.7,77.5" fill="none" stroke="rgb(198,239,238)" stroke-width="1.32" stroke-opacity="1.00"/>
<path d="M147.0,77.3 L144.2,79.7" fill="none" stroke="rgb(192,238,232)" stroke-width="1.30" stroke-opacity="1.00"/>
<path d="M144.5,79.5 L141.7,81.9" fill="none" stroke="rgb(186,237,226)" stroke-width="1.28" stroke-opacity="1.00"/>
<path d="M142.0,81.6 L139.1,84.1" fill="none" stroke="rgb(179,236,219)" stroke-width="1.26" stroke-opacity="1.00"/>
<path d="M139.4,83.8 L136.5,86.2" fill="none" stroke="rgb(173,235,213)" stroke-width="1.24" stroke-opacity="1.00"/>
<path d="M136.9,86.0 L134.0,88.4" fill="none" stroke="rgb(174,234,199)" stroke-width="1.22" stroke-opacity="1.00"/>
<path d="M134.3,88.1 L131.4,90.5" fill="none" stroke="rgb(183,233,178)" stroke-width="1.21" stroke-opacity="1.00"/>
<path d="M131.7,90.3 L128.8,92.7" fill="none" stroke="rgb(192,233,157)" stroke-width="1.19" stroke-opacity="1.00"/>
<path d="M129.1,92.4 L126.3,94.8" fill="none" stroke="rgb(201,232,137)" stroke-width="1.17" stroke-opacity="1.00"/>
<path d="M126.6,94.6 L123.7,96.9" fill="none" stroke="rgb(210,231,116)" stroke-width="1.15" stroke-opacity="1.00"/>
<path d="M124.0,96.7 L121.1,99.1" fill="none" stroke="rgb(219,231,95)" stroke-width="1.13" stroke-opacity="1.00"/>
<path d="M121.4,98.8 L118.5,101.2" fill="none" stroke="rgb(228,230,74)" stroke-width="1.11" stroke-opacity="1.00"/>
<path d="M118.8,100.9 L115.9,103.3" fill="none" stroke="rgb(235,229,60)" stroke-width="1.09" stroke-opacity="1.00"/>
<path d="M116.2,103.0 L113.3,105.4" fill="none" stroke="rgb(235,228,60)" stroke-width="1.06" stroke-opacity="1.00"/>
<path d="M113.6,105.1 L110.6,107.5" fill="none" stroke="rgb(235,227,60)" stroke-width="1.02" stroke-opacity="1.00"/>
<path d="M110.9,107.2 L108.0,109.6" fill="none" stroke="rgb(235,226,60)" stroke-width="0.99" stroke-opacity="1.00"/>
<path d="M108.3,109.3 L105.4,111.6" fill="none" stroke="rgb(235,226,60)" stroke-width="0.96" stroke-opacity="1.00"/>
<path d="M105.7,111.4 L102.8,113.7" fill="none" stroke="rgb(235,225,60)" stroke-width="0.92" stroke-opacity="1.00"/>
<path d="M103.1,113.5 L100.1,115.8" fill="none" stroke="rgb(231,207,66)" stroke-width="0.89" stroke-opacity="1.00"/>
<path d="M100.4,115.5 L97.5,117.8" fill="none" stroke="rgb(227,188,74)" stroke-width="0.86" stroke-opacity="1.00"/>
<path d="M97.8,117.6 L94.8,119.9" fill="none" stroke="rgb(224,168,81)" stroke-width="0.82" stroke-opacity="1.00"/>
<path d="M95.1,119.6 L92.2,121.9" fill="none" stroke="rgb(220,149,88)" stroke-width="0.79" stroke-opacity="1.00"/>
<path d="M92.5,121.7 L89.5,124.0" fill="none" stroke="rgb(216,129,96)" stroke-width="0.77" stroke-opacity="1.00"/>
<path d="M89.8,123.7 L86.9,126.0" fill="none" stroke="rgb(214,119,101)" stroke-width="0.75" stroke-opacity="1.00"/>
<path d="M87.2,125.8 L84.2,128.0" fill="none" stroke="rgb(213,118,103)" stroke-width="0.72" stroke-opacity="1.00"/>
<path d="M84.5,127.8 L81.5,130.1" fill="none" stroke="rgb(212,117,105)" stroke-width="0.70" stroke-opacity="1.00"/>
<path d="M81.9,129.8 L78.9,132.1" fill="none" stroke="rgb(211,116,107)" stroke-width="0.68" stroke-opacity="1.00"/>
<path d="M79.2,131.9 L76.2,134.1" fill="none" stroke="rgb(210,115,110)" stroke-width="0.65" stroke-opacity="1.00"/>
<path d="M76.5,133.9 L73.5,136.1" fill="none" stroke="rgb(208,113,112)" stroke-width="0.63" stroke-opacity="1.00"/>
<path d="M73.8,135.9 L70.8,138.1" fill="none" stroke="rgb(207,112,114)" stroke-width="0.61" stroke-opacity="1.00"/>
<path d="M71.1,137.9 L68.1,140.1" fill="none" stroke="rgb(206,111,116)" stroke-width="0.58" stroke-opacity="1.00"/>
<path d="M68.4,139.9 L65.7,141.8" fill="none" stroke="rgb(205,110,118)" stroke-width="0.56" stroke-opacity="1.00"/>
<path d="M160.9,67.6 L158.3,64.8" fill="none" stroke="rgb(150,215,250)" stroke-width="0.7"/>
<path d="M64.1,0.0 L64.0,5.3 L63.9,10.7 L63.7,16.0 L63.6,21.4 L63.5,26.7 L63.3,32.0 L63.2,37.4 L63.1,42.7 L62.9,48.1 L62.8,53.4 L62.7,58.7 L62.6,64.1 L62.5,69.4 L62.4,74.8 L62.3,80.1 L62.2,85.5 L62.2,90.8 L62.2,96.1 L62.2,101.5 L62.2,106.8 L62.3,112.2 L62.3,117.5 L62.4,122.8 L62.5,128.2 L62.7,133.5 L62.9,138.8 L63.1,144.2 L63.4,149.5 L63.7,154.8 L64.0,160.2 L64.4,165.5 L64.8,170.8 L65.3,176.1 L65.8,181.4 L66.4,186.8 L67.0,192.1 L67.6,197.4 L68.4,202.7 L69.1,208.0" fill="none" stroke="rgb(175,15,165)" stroke-opacity="0.78" stroke-width="0.95"/>
</g>
<rect x="25" y="4" width="174" height="196" fill="none" stroke="#000" stroke-width="0.6"/>
<g font-family="'DejaVu Sans', 'Liberation Sans', sans-serif" fill="#111" stroke="#111" stroke-width="0.12">
<path d="M36.5,200 v-2 M36.5,4 v2" stroke="#000" stroke-width="0.5"/>
<text transform="translate(36.50,207.00)" font-size="5.9" text-anchor="middle" opacity="0.99" >500</text>
<path d="M66.7,200 v-2 M66.7,4 v2" stroke="#000" stroke-width="0.5"/>
<text transform="translate(66.70,207.00)" font-size="5.9" text-anchor="middle" opacity="0.99" >550</text>
<path d="M96.9,200 v-2 M96.9,4 v2" stroke="#000" stroke-width="0.5"/>
<text transform="translate(96.90,207.00)" font-size="5.9" text-anchor="middle" opacity="0.99" >600</text>
<path d="M127.1,200 v-2 M127.1,4 v2" stroke="#000" stroke-width="0.5"/>
<text transform="translate(127.10,207.00)" font-size="5.9" text-anchor="middle" opacity="0.99" >650</text>
<path d="M157.3,200 v-2 M157.3,4 v2" stroke="#000" stroke-width="0.5"/>
<text transform="translate(157.30,207.00)" font-size="5.9" text-anchor="middle" opacity="0.99" >700</text>
<path d="M187.5,200 v-2 M187.5,4 v2" stroke="#000" stroke-width="0.5"/>
<text transform="translate(187.50,207.00)" font-size="5.9" text-anchor="middle" opacity="0.99" >750</text>
<path d="M25,17 h2 M199,17 h-2" stroke="#000" stroke-width="0.5"/>
<text transform="translate(23.20,19.10)" font-size="5.9" text-anchor="end" opacity="0.99" >500</text>
<path d="M25,47 h2 M199,47 h-2" stroke="#000" stroke-width="0.5"/>
<text transform="translate(23.20,49.10)" font-size="5.9" text-anchor="end" opacity="0.99" >450</text>
<path d="M25,77 h2 M199,77 h-2" stroke="#000" stroke-width="0.5"/>
<text transform="translate(23.20,79.10)" font-size="5.9" text-anchor="end" opacity="0.99" >400</text>
<path d="M25,107 h2 M199,107 h-2" stroke="#000" stroke-width="0.5"/>
<text transform="translate(23.20,109.10)" font-size="5.9" text-anchor="end" opacity="0.99" >350</text>
<path d="M25,137 h2 M199,137 h-2" stroke="#000" stroke-width="0.5"/>
<text transform="translate(23.20,139.10)" font-size="5.9" text-anchor="end" opacity="0.99" >300</text>
<path d="M25,167 h2 M199,167 h-2" stroke="#000" stroke-width="0.5"/>
<text transform="translate(23.20,169.10)" font-size="5.9" text-anchor="end" opacity="0.99" >250</text>
<path d="M25,197.3 h2 M199,197.3 h-2" stroke="#000" stroke-width="0.5"/>
<text transform="translate(23.20,199.40)" font-size="5.9" text-anchor="end" opacity="0.99" >200</text>
<text transform="translate(112.00,215.30)" font-size="5.8" text-anchor="middle" opacity="0.99" ><tspan font-style="italic" font-family="'DejaVu Serif', 'Liberation Serif', serif">R</tspan> [cm]</text>
<text transform="translate(9.00,102.00) rotate(-90)" font-size="5.7" text-anchor="middle" opacity="0.99" ><tspan font-style="italic" font-family="'DejaVu Serif', 'Liberation Serif', serif">Z</tspan> [cm]</text>
<rect x="123.3" y="8.3" width="71.4" height="21.4" fill="#fff" stroke="#000" stroke-width="0.3"/>
<path d="M127.5,13.5 h10.3" stroke="#c85cc8" stroke-width="0.8"/>
<path d="M127.5,23.6 h10.3" stroke="#30c8cc" stroke-width="0.8"/>
<text transform="translate(145.00,15.60)" font-size="7" text-anchor="start" opacity="0.99" fill="#111">first harm.</text>
<text transform="translate(145.00,26.10)" font-size="7" text-anchor="start" opacity="0.99" fill="#111">second harm.</text>
</g>
<text transform="translate(106.50,236.30)" font-size="14.5" text-anchor="middle" opacity="0.99" font-family="'Liberation Serif', serif" fill="#333">a)</text>
<g font-family="'Liberation Sans', sans-serif" font-weight="bold" fill="#0a0a0a" stroke="#0a0a0a" stroke-width="0.18">
<path d="M249,172.75 H399" stroke="#777" stroke-width="0.6" stroke-dasharray="0.7 1.3"/>
<path d="M249,149.75 H399" stroke="#777" stroke-width="0.6" stroke-dasharray="0.7 1.3"/>
<path d="M249,126.75 H399" stroke="#777" stroke-width="0.6" stroke-dasharray="0.7 1.3"/>
<path d="M249,103.75 H399" stroke="#777" stroke-width="0.6" stroke-dasharray="0.7 1.3"/>
<path d="M299,80.75 V195.75" stroke="#777" stroke-width="0.6" stroke-dasharray="0.7 1.3"/>
<path d="M349,80.75 V195.75" stroke="#777" stroke-width="0.6" stroke-dasharray="0.7 1.3"/>
<rect x="249" y="80.75" width="150" height="115" fill="none" stroke="#000" stroke-width="0.9"/>
<path d="M249.2,80.75 V195.75" stroke="#000" stroke-width="1.6"/>
<path d="M249,195.85 H399" stroke="#000" stroke-width="1.3"/>
<path d="M249.0,195.7 L249.5,195.7 L250.0,195.7 L250.5,195.7 L251.0,195.7 L251.5,195.7 L252.0,195.7 L252.5,195.7 L253.0,195.7 L253.5,195.7 L254.0,195.7 L254.5,195.7 L255.0,195.7 L255.5,195.7 L256.0,195.7 L256.5,195.7 L257.0,195.7 L257.5,195.7 L258.0,195.7 L258.5,195.7 L259.0,195.7 L259.5,195.7 L260.0,195.7 L260.5,195.7 L261.0,195.6 L261.5,195.6 L262.0,195.6 L262.5,195.5 L263.0,195.4 L263.5,195.3 L264.1,195.2 L264.6,195.1 L265.1,194.9 L265.6,194.7 L266.1,194.4 L266.6,194.1 L267.1,193.7 L267.6,193.3 L268.1,192.7 L268.6,192.1 L269.1,191.3 L269.6,190.4 L270.1,189.4 L270.6,188.2 L271.1,186.8 L271.6,185.2 L272.1,183.5 L272.6,181.5 L273.1,179.3 L273.6,176.8 L274.1,174.1 L274.6,171.1 L275.1,167.9 L275.6,164.4 L276.1,160.8 L276.6,156.9 L277.1,152.8 L277.6,148.5 L278.1,144.1 L278.6,139.6 L279.1,135.1 L279.6,130.6 L280.1,126.1 L280.6,121.7 L281.1,117.5 L281.6,113.5 L282.1,109.8 L282.6,106.5 L283.1,103.5 L283.6,100.9 L284.1,98.9 L284.6,97.3 L285.1,96.3 L285.6,95.8 L286.1,95.9 L286.6,96.5 L287.1,97.7 L287.6,99.4 L288.1,101.6 L288.6,104.3 L289.1,107.4 L289.6,110.9 L290.1,114.7 L290.6,118.7 L291.1,123.0 L291.6,127.4 L292.1,131.9 L292.6,136.4 L293.1,140.9 L293.6,145.4 L294.2,149.8 L294.7,154.0 L295.2,158.0 L295.7,161.9 L296.2,165.5 L296.7,168.9 L297.2,172.0 L297.7,174.9 L298.2,177.5 L298.7,179.9 L299.2,182.1 L299.7,184.0 L300.2,185.7 L300.7,187.2 L301.2,188.6 L301.7,189.7 L302.2,190.7 L302.7,191.6 L303.2,192.3 L303.7,192.9 L304.2,193.4 L304.7,193.9 L305.2,194.2 L305.7,194.5 L306.2,194.8 L306.7,195.0 L307.2,195.1 L307.7,195.3 L308.2,195.4 L308.7,195.5 L309.2,195.5 L309.7,195.6 L310.2,195.6 L310.7,195.7 L311.2,195.7 L311.7,195.7 L312.2,195.7 L312.7,195.7 L313.2,195.7 L313.7,195.7 L314.2,195.7 L314.7,195.7 L315.2,195.7 L315.7,195.7 L316.2,195.7 L316.7,195.7 L317.2,195.7 L317.7,195.7 L318.2,195.7 L318.7,195.7 L319.2,195.7 L319.7,195.7 L320.2,195.7 L320.7,195.7 L321.2,195.7 L321.7,195.7 L322.2,195.7 L322.7,195.7 L323.2,195.7 L323.7,195.7 L324.3,195.7 L324.8,195.7 L325.3,195.7 L325.8,195.7 L326.3,195.7 L326.8,195.7 L327.3,195.7 L327.8,195.7 L328.3,195.7 L328.8,195.7 L329.3,195.7 L329.8,195.7 L330.3,195.7 L330.8,195.7 L331.3,195.7 L331.8,195.7 L332.3,195.7 L332.8,195.7 L333.3,195.7 L333.8,195.7 L334.3,195.7 L334.8,195.7 L335.3,195.7 L335.8,195.7 L336.3,195.7 L336.8,195.7 L337.3,195.7 L337.8,195.7 L338.3,195.7 L338.8,195.7 L339.3,195.7 L339.8,195.7 L340.3,195.7 L340.8,195.7 L341.3,195.7 L341.8,195.7 L342.3,195.7 L342.8,195.7 L343.3,195.8 L343.8,195.8 L344.3,195.8 L344.8,195.8 L345.3,195.8 L345.8,195.8 L346.3,195.8 L346.8,195.8 L347.3,195.8 L347.8,195.8 L348.3,195.8 L348.8,195.8 L349.3,195.8 L349.8,195.8 L350.3,195.8 L350.8,195.8 L351.3,195.8 L351.8,195.8 L352.3,195.8 L352.8,195.8 L353.3,195.8 L353.8,195.8 L354.4,195.8 L354.9,195.8 L355.4,195.8 L355.9,195.8 L356.4,195.8 L356.9,195.8 L357.4,195.8 L357.9,195.8 L358.4,195.8 L358.9,195.8 L359.4,195.8 L359.9,195.8 L360.4,195.8 L360.9,195.8 L361.4,195.8 L361.9,195.8 L362.4,195.8 L362.9,195.8 L363.4,195.8 L363.9,195.8 L364.4,195.8 L364.9,195.8 L365.4,195.8 L365.9,195.8 L366.4,195.8 L366.9,195.8 L367.4,195.8 L367.9,195.8 L368.4,195.8 L368.9,195.8 L369.4,195.8 L369.9,195.8 L370.4,195.8 L370.9,195.8 L371.4,195.8 L371.9,195.8 L372.4,195.8 L372.9,195.8 L373.4,195.8 L373.9,195.8 L374.4,195.8 L374.9,195.8 L375.4,195.8 L375.9,195.8 L376.4,195.8 L376.9,195.8 L377.4,195.8 L377.9,195.8 L378.4,195.8 L378.9,195.8 L379.4,195.8 L379.9,195.8 L380.4,195.8 L380.9,195.8 L381.4,195.8 L381.9,195.8 L382.4,195.8 L382.9,195.8 L383.4,195.8 L383.9,195.8 L384.5,195.8 L385.0,195.8 L385.5,195.8 L386.0,195.8 L386.5,195.8 L387.0,195.8 L387.5,195.8 L388.0,195.8 L388.5,195.8 L389.0,195.8 L389.5,195.8 L390.0,195.8 L390.5,195.8 L391.0,195.8 L391.5,195.8 L392.0,195.8 L392.5,195.8 L393.0,195.8 L393.5,195.8 L394.0,195.8 L394.5,195.8 L395.0,195.8 L395.5,195.8 L396.0,195.8 L396.5,195.8 L397.0,195.8 L397.5,195.8 L398.0,195.8 L398.5,195.8 L399.0,195.8" fill="none" stroke="#1040c0" stroke-width="1.3"/>
<path d="M249.0,195.7 L249.5,195.7 L250.0,195.7 L250.5,195.7 L251.0,195.7 L251.5,195.7 L252.0,195.7 L252.5,195.7 L253.0,195.7 L253.5,195.7 L254.0,195.7 L254.5,195.7 L255.0,195.7 L255.5,195.7 L256.0,195.7 L256.5,195.7 L257.0,195.7 L257.5,195.7 L258.0,195.7 L258.5,195.7 L259.0,195.7 L259.5,195.7 L260.0,195.6 L260.5,195.6 L261.0,195.5 L261.5,195.5 L262.0,195.4 L262.5,195.3 L263.0,195.2 L263.5,195.1 L264.1,194.9 L264.6,194.7 L265.1,194.4 L265.6,194.1 L266.1,193.8 L266.6,193.3 L267.1,192.8 L267.6,192.2 L268.1,191.5 L268.6,190.7 L269.1,189.7 L269.6,188.6 L270.1,187.3 L270.6,185.9 L271.1,184.3 L271.6,182.5 L272.1,180.5 L272.6,178.3 L273.1,175.8 L273.6,173.2 L274.1,170.3 L274.6,167.2 L275.1,163.9 L275.6,160.4 L276.1,156.7 L276.6,152.8 L277.1,148.8 L277.6,144.8 L278.1,140.6 L278.6,136.4 L279.1,132.2 L279.6,128.1 L280.1,124.1 L280.6,120.2 L281.1,116.6 L281.6,113.2 L282.1,110.1 L282.6,107.4 L283.1,105.0 L283.6,103.1 L284.1,101.6 L284.6,100.6 L285.1,100.0 L285.6,100.0 L286.1,100.5 L286.6,101.4 L287.1,102.9 L287.6,104.8 L288.1,107.1 L288.6,109.8 L289.1,112.8 L289.6,116.2 L290.1,119.8 L290.6,123.6 L291.1,127.6 L291.6,131.7 L292.1,135.9 L292.6,140.1 L293.1,144.3 L293.6,148.4 L294.2,152.4 L294.7,156.3 L295.2,160.0 L295.7,163.5 L296.2,166.8 L296.7,170.0 L297.2,172.9 L297.7,175.5 L298.2,178.0 L298.7,180.3 L299.2,182.3 L299.7,184.1 L300.2,185.7 L300.7,187.2 L301.2,188.5 L301.7,189.6 L302.2,190.6 L302.7,191.4 L303.2,192.1 L303.7,192.7 L304.2,193.3 L304.7,193.7 L305.2,194.1 L305.7,194.4 L306.2,194.7 L306.7,194.9 L307.2,195.0 L307.7,195.2 L308.2,195.3 L308.7,195.4 L309.2,195.5 L309.7,195.5 L310.2,195.6 L310.7,195.6 L311.2,195.7 L311.7,195.7 L312.2,195.7 L312.7,195.7 L313.2,195.7 L313.7,195.7 L314.2,195.7 L314.7,195.7 L315.2,195.7 L315.7,195.7 L316.2,195.7 L316.7,195.7 L317.2,195.7 L317.7,195.7 L318.2,195.7 L318.7,195.7 L319.2,195.7 L319.7,195.7 L320.2,195.7 L320.7,195.7 L321.2,195.7 L321.7,195.7 L322.2,195.7 L322.7,195.7 L323.2,195.7 L323.7,195.7 L324.3,195.7 L324.8,195.7 L325.3,195.7 L325.8,195.7 L326.3,195.7 L326.8,195.7 L327.3,195.7 L327.8,195.7 L328.3,195.7 L328.8,195.7 L329.3,195.7 L329.8,195.7 L330.3,195.7 L330.8,195.7 L331.3,195.7 L331.8,195.7 L332.3,195.7 L332.8,195.7 L333.3,195.7 L333.8,195.7 L334.3,195.7 L334.8,195.7 L335.3,195.7 L335.8,195.7 L336.3,195.7 L336.8,195.7 L337.3,195.7 L337.8,195.7 L338.3,195.7 L338.8,195.7 L339.3,195.7 L339.8,195.7 L340.3,195.7 L340.8,195.7 L341.3,195.7 L341.8,195.7 L342.3,195.7 L342.8,195.7 L343.3,195.7 L343.8,195.7 L344.3,195.7 L344.8,195.8 L345.3,195.8 L345.8,195.8 L346.3,195.8 L346.8,195.8 L347.3,195.8 L347.8,195.8 L348.3,195.8 L348.8,195.8 L349.3,195.8 L349.8,195.8 L350.3,195.8 L350.8,195.8 L351.3,195.8 L351.8,195.8 L352.3,195.8 L352.8,195.8 L353.3,195.8 L353.8,195.8 L354.4,195.8 L354.9,195.8 L355.4,195.8 L355.9,195.8 L356.4,195.8 L356.9,195.8 L357.4,195.8 L357.9,195.8 L358.4,195.8 L358.9,195.8 L359.4,195.8 L359.9,195.8 L360.4,195.8 L360.9,195.8 L361.4,195.8 L361.9,195.8 L362.4,195.8 L362.9,195.8 L363.4,195.8 L363.9,195.8 L364.4,195.8 L364.9,195.8 L365.4,195.8 L365.9,195.8 L366.4,195.8 L366.9,195.8 L367.4,195.8 L367.9,195.8 L368.4,195.8 L368.9,195.8 L369.4,195.8 L369.9,195.8 L370.4,195.8 L370.9,195.8 L371.4,195.8 L371.9,195.8 L372.4,195.8 L372.9,195.8 L373.4,195.8 L373.9,195.8 L374.4,195.8 L374.9,195.8 L375.4,195.8 L375.9,195.8 L376.4,195.8 L376.9,195.8 L377.4,195.8 L377.9,195.8 L378.4,195.8 L378.9,195.8 L379.4,195.8 L379.9,195.8 L380.4,195.8 L380.9,195.8 L381.4,195.8 L381.9,195.8 L382.4,195.8 L382.9,195.8 L383.4,195.8 L383.9,195.8 L384.5,195.8 L385.0,195.8 L385.5,195.8 L386.0,195.8 L386.5,195.8 L387.0,195.8 L387.5,195.8 L388.0,195.8 L388.5,195.8 L389.0,195.8 L389.5,195.8 L390.0,195.8 L390.5,195.8 L391.0,195.8 L391.5,195.8 L392.0,195.8 L392.5,195.8 L393.0,195.8 L393.5,195.8 L394.0,195.8 L394.5,195.8 L395.0,195.8 L395.5,195.8 L396.0,195.8 L396.5,195.8 L397.0,195.8 L397.5,195.8 L398.0,195.8 L398.5,195.8 L399.0,195.8" fill="none" stroke="#ee1030" stroke-width="1.4"/>
<text transform="translate(247.30,199.15) scale(0.925,1)" font-size="9.7" text-anchor="end" opacity="0.99" >0</text>
<text transform="translate(247.30,176.15) scale(0.925,1)" font-size="9.7" text-anchor="end" opacity="0.99" >0.02</text>
<text transform="translate(247.30,153.15) scale(0.925,1)" font-size="9.7" text-anchor="end" opacity="0.99" >0.04</text>
<text transform="translate(247.30,130.15) scale(0.925,1)" font-size="9.7" text-anchor="end" opacity="0.99" >0.06</text>
<text transform="translate(247.30,107.15) scale(0.925,1)" font-size="9.7" text-anchor="end" opacity="0.99" >0.08</text>
<text transform="translate(247.30,84.15) scale(0.925,1)" font-size="9.7" text-anchor="end" opacity="0.99" >0.1</text>
<text transform="translate(249.00,207.00) scale(0.925,1)" font-size="9.7" text-anchor="middle" opacity="0.99" >0.84</text>
<text transform="translate(299.00,207.00) scale(0.925,1)" font-size="9.7" text-anchor="middle" opacity="0.99" >0.86</text>
<text transform="translate(349.00,207.00) scale(0.925,1)" font-size="9.7" text-anchor="middle" opacity="0.99" >0.88</text>
<text transform="translate(399.00,207.00) scale(0.925,1)" font-size="9.7" text-anchor="middle" opacity="0.99" >0.9</text>
<text transform="translate(324.00,73.80) scale(0.925,1)" font-size="9.8" text-anchor="middle" opacity="0.99" >power deposition profile 0 deg</text>
<text transform="translate(225.00,138.00) rotate(-90) scale(0.925,1)" font-size="9.8" text-anchor="middle" opacity="0.99" >dP/dV (MW/m<tspan font-size="7" dy="-3.5">3</tspan><tspan dy="3.5">)</tspan></text>
<text transform="translate(318.80,213.00)" font-size="9" text-anchor="start" opacity="0.99" font-weight="normal">ρ<tspan font-size="7.2" font-weight="bold" dy="3.8">p</tspan></text>
<rect x="293.8" y="82.2" width="104" height="24" fill="#fff" stroke="#000" stroke-width="0.9"/>
<path d="M296.5,89.5 h13" stroke="#1040c0" stroke-width="1.2"/>
<path d="M296.5,100.5 h13" stroke="#ee1030" stroke-width="1.2"/>
<text transform="translate(311.50,93.00) scale(0.925,1)" font-size="9.9" text-anchor="start" opacity="0.99" >TORBEAM no fluct.</text>
<text transform="translate(311.50,104.00) scale(0.925,1)" font-size="9.9" text-anchor="start" opacity="0.99" >WKBeam no fluct.</text>
</g>
<text transform="translate(324.00,234.80)" font-size="14.5" text-anchor="middle" opacity="0.99" font-family="'Liberation Serif', serif" fill="#333">b)</text>
</svg></body></html>
